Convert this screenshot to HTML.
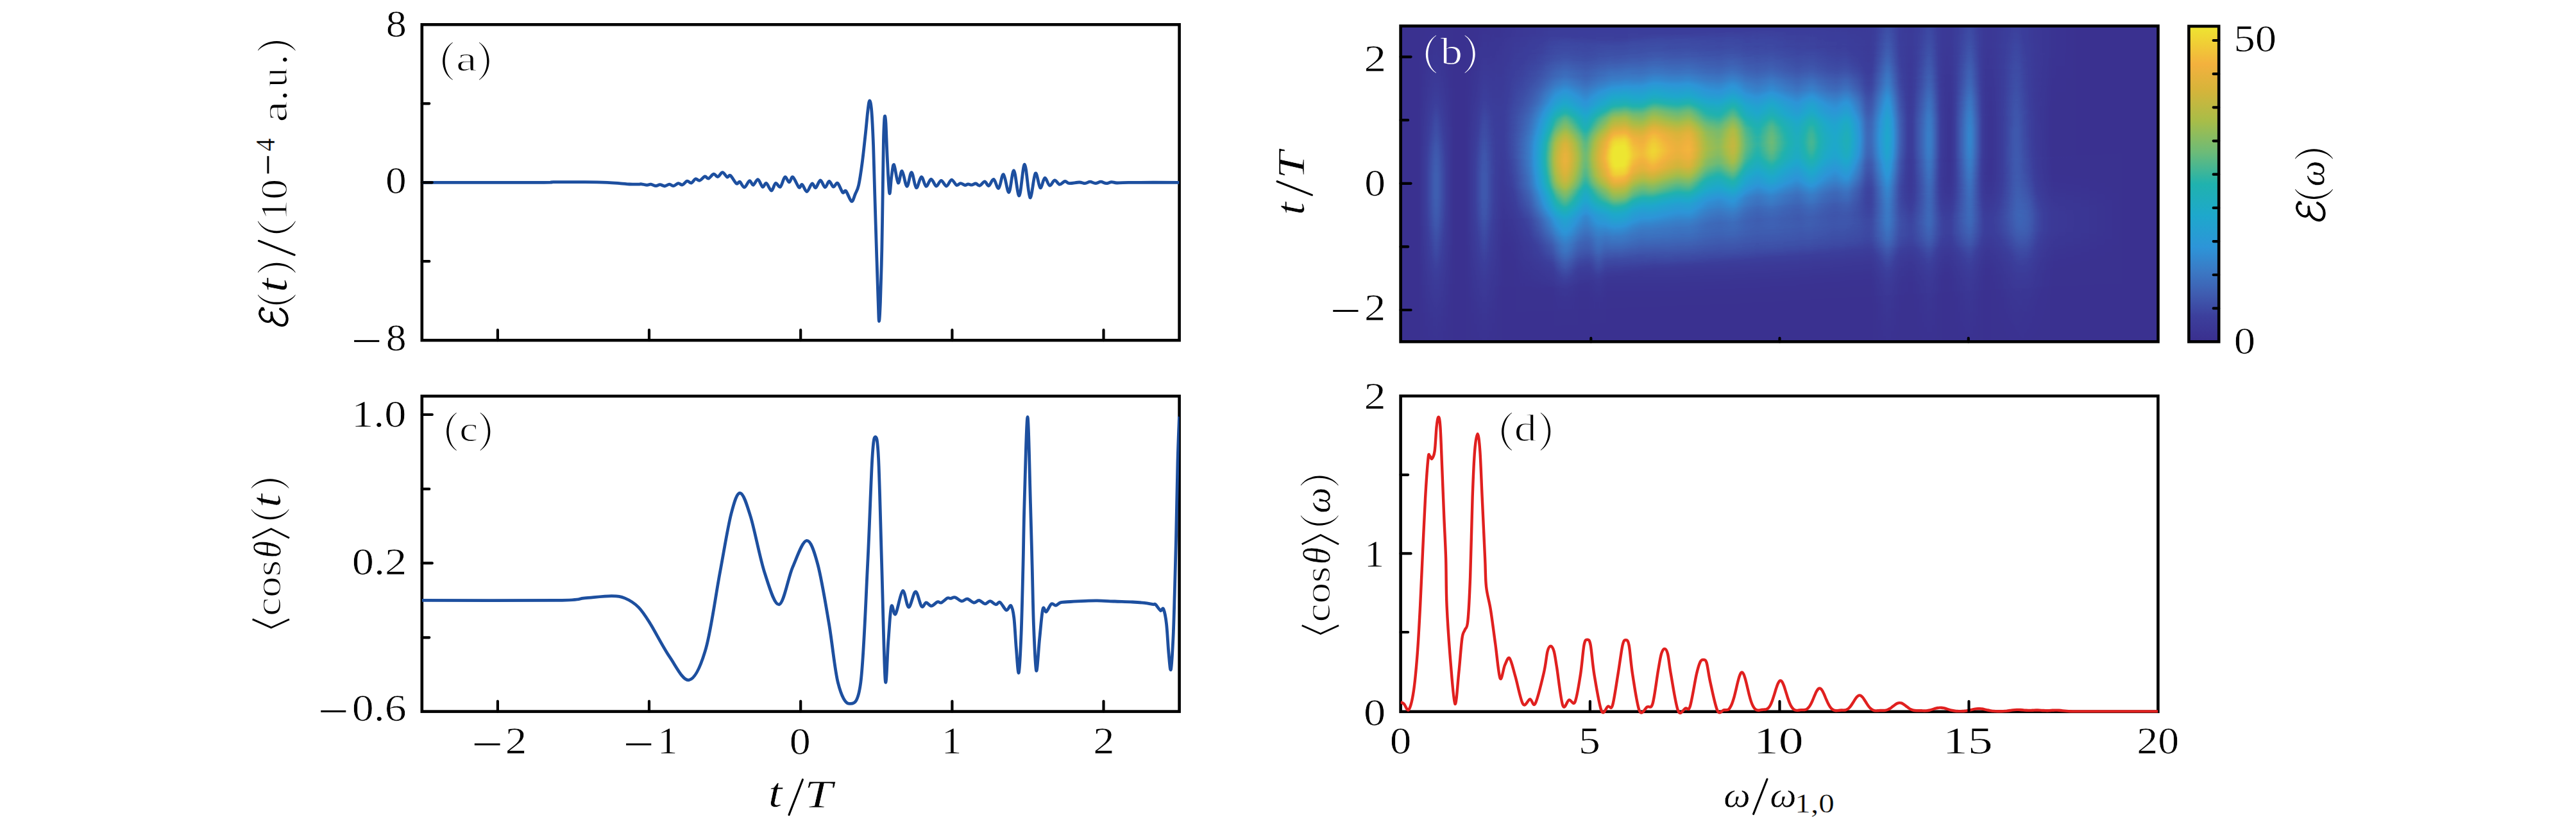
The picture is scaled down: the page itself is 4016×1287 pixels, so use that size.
<!DOCTYPE html><html><head><meta charset="utf-8"><style>html,body{margin:0;padding:0;background:#fff;overflow:hidden}svg{display:block}text{font-family:"Liberation Serif",serif;font-size:60px;font-kerning:none}</style></head><body>
<svg width="4016" height="1287" viewBox="0 0 4016 1287">
<rect width="4016" height="1287" fill="#fff"/>
<defs><filter id="pm" x="0" y="0" width="1" height="1" color-interpolation-filters="sRGB"><feComponentTransfer><feFuncR type="table" tableValues="0.2275 0.2290 0.2306 0.2321 0.2337 0.2352 0.2379 0.2405 0.2432 0.2459 0.2451 0.2415 0.2380 0.2344 0.2298 0.2190 0.2081 0.1972 0.1863 0.1755 0.1662 0.1569 0.1475 0.1382 0.1289 0.1195 0.1186 0.1199 0.1211 0.1224 0.1236 0.1249 0.1491 0.1965 0.2438 0.2911 0.3384 0.3857 0.4310 0.4683 0.5057 0.5430 0.5804 0.6177 0.6551 0.6852 0.7144 0.7437 0.7729 0.8022 0.8314 0.8562 0.8780 0.8998 0.9216 0.9434 0.9514 0.9488 0.9461 0.9434 0.9408 0.9383 0.9358 0.9333"/><feFuncG type="table" tableValues="0.1843 0.1968 0.2092 0.2217 0.2341 0.2466 0.2718 0.2976 0.3234 0.3492 0.3745 0.3994 0.4243 0.4492 0.4737 0.4963 0.5189 0.5414 0.5640 0.5855 0.5973 0.6092 0.6210 0.6328 0.6446 0.6565 0.6638 0.6700 0.6763 0.6825 0.6887 0.6949 0.7008 0.7064 0.7120 0.7176 0.7232 0.7289 0.7336 0.7348 0.7361 0.7373 0.7386 0.7398 0.7411 0.7361 0.7305 0.7249 0.7193 0.7137 0.7081 0.7045 0.7021 0.6998 0.6975 0.6951 0.7096 0.7371 0.7647 0.7923 0.8198 0.8472 0.8746 0.9020"/><feFuncB type="table" tableValues="0.5569 0.5678 0.5786 0.5895 0.6004 0.6113 0.6288 0.6466 0.6644 0.6822 0.7000 0.7178 0.7355 0.7533 0.7708 0.7864 0.8019 0.8175 0.8331 0.8463 0.8388 0.8314 0.8239 0.8164 0.8090 0.8015 0.7851 0.7664 0.7477 0.7290 0.7104 0.6917 0.6655 0.6319 0.5983 0.5647 0.5311 0.4975 0.4646 0.4347 0.4049 0.3750 0.3451 0.3152 0.2853 0.2745 0.2658 0.2571 0.2484 0.2397 0.2309 0.2293 0.2324 0.2355 0.2387 0.2418 0.2387 0.2307 0.2226 0.2146 0.2071 0.2021 0.1971 0.1922"/></feComponentTransfer></filter><radialGradient id="gg"><stop offset="0" stop-color="#fff" stop-opacity="1.0000"/><stop offset="0.08" stop-color="#fff" stop-opacity="0.9692"/><stop offset="0.17" stop-color="#fff" stop-opacity="0.8825"/><stop offset="0.25" stop-color="#fff" stop-opacity="0.7548"/><stop offset="0.33" stop-color="#fff" stop-opacity="0.6065"/><stop offset="0.42" stop-color="#fff" stop-opacity="0.4578"/><stop offset="0.5" stop-color="#fff" stop-opacity="0.3247"/><stop offset="0.58" stop-color="#fff" stop-opacity="0.2163"/><stop offset="0.67" stop-color="#fff" stop-opacity="0.1353"/><stop offset="0.75" stop-color="#fff" stop-opacity="0.0796"/><stop offset="0.83" stop-color="#fff" stop-opacity="0.0439"/><stop offset="0.92" stop-color="#fff" stop-opacity="0.0228"/><stop offset="1" stop-color="#fff" stop-opacity="0.0000"/></radialGradient><clipPath id="cbh"><rect id="hb" x="0" y="0" width="0" height="0"/></clipPath></defs>
<defs><clipPath id="hclip"><rect x="2183.6" y="40.5" width="1180.9" height="491.9"/></clipPath><linearGradient id="vg" x1="0" y1="0" x2="0" y2="1"><stop offset="0" stop-color="#fff" stop-opacity="0.0000"/><stop offset="0.03" stop-color="#fff" stop-opacity="0.0198"/><stop offset="0.07" stop-color="#fff" stop-opacity="0.0340"/><stop offset="0.1" stop-color="#fff" stop-opacity="0.0561"/><stop offset="0.13" stop-color="#fff" stop-opacity="0.0889"/><stop offset="0.17" stop-color="#fff" stop-opacity="0.1353"/><stop offset="0.2" stop-color="#fff" stop-opacity="0.1979"/><stop offset="0.23" stop-color="#fff" stop-opacity="0.2780"/><stop offset="0.27" stop-color="#fff" stop-opacity="0.3753"/><stop offset="0.3" stop-color="#fff" stop-opacity="0.4868"/><stop offset="0.33" stop-color="#fff" stop-opacity="0.6065"/><stop offset="0.37" stop-color="#fff" stop-opacity="0.7261"/><stop offset="0.4" stop-color="#fff" stop-opacity="0.8353"/><stop offset="0.43" stop-color="#fff" stop-opacity="0.9231"/><stop offset="0.47" stop-color="#fff" stop-opacity="0.9802"/><stop offset="0.5" stop-color="#fff" stop-opacity="1.0000"/><stop offset="0.53" stop-color="#fff" stop-opacity="0.9802"/><stop offset="0.57" stop-color="#fff" stop-opacity="0.9231"/><stop offset="0.6" stop-color="#fff" stop-opacity="0.8353"/><stop offset="0.63" stop-color="#fff" stop-opacity="0.7261"/><stop offset="0.67" stop-color="#fff" stop-opacity="0.6065"/><stop offset="0.7" stop-color="#fff" stop-opacity="0.4868"/><stop offset="0.73" stop-color="#fff" stop-opacity="0.3753"/><stop offset="0.77" stop-color="#fff" stop-opacity="0.2780"/><stop offset="0.8" stop-color="#fff" stop-opacity="0.1979"/><stop offset="0.83" stop-color="#fff" stop-opacity="0.1353"/><stop offset="0.87" stop-color="#fff" stop-opacity="0.0889"/><stop offset="0.9" stop-color="#fff" stop-opacity="0.0561"/><stop offset="0.93" stop-color="#fff" stop-opacity="0.0340"/><stop offset="0.97" stop-color="#fff" stop-opacity="0.0198"/><stop offset="1" stop-color="#fff" stop-opacity="0.0000"/></linearGradient><filter id="pm2" filterUnits="userSpaceOnUse" x="2143.6" y="0.5" width="1260.9" height="571.9" color-interpolation-filters="sRGB"><feGaussianBlur stdDeviation="2.5 0"/><feComponentTransfer><feFuncR type="table" tableValues="0.2275 0.2290 0.2306 0.2321 0.2337 0.2352 0.2379 0.2405 0.2432 0.2459 0.2451 0.2415 0.2380 0.2344 0.2298 0.2190 0.2081 0.1972 0.1863 0.1755 0.1662 0.1569 0.1475 0.1382 0.1289 0.1195 0.1186 0.1199 0.1211 0.1224 0.1236 0.1249 0.1491 0.1965 0.2438 0.2911 0.3384 0.3857 0.4310 0.4683 0.5057 0.5430 0.5804 0.6177 0.6551 0.6852 0.7144 0.7437 0.7729 0.8022 0.8314 0.8562 0.8780 0.8998 0.9216 0.9434 0.9514 0.9488 0.9461 0.9434 0.9408 0.9383 0.9358 0.9333"/><feFuncG type="table" tableValues="0.1843 0.1968 0.2092 0.2217 0.2341 0.2466 0.2718 0.2976 0.3234 0.3492 0.3745 0.3994 0.4243 0.4492 0.4737 0.4963 0.5189 0.5414 0.5640 0.5855 0.5973 0.6092 0.6210 0.6328 0.6446 0.6565 0.6638 0.6700 0.6763 0.6825 0.6887 0.6949 0.7008 0.7064 0.7120 0.7176 0.7232 0.7289 0.7336 0.7348 0.7361 0.7373 0.7386 0.7398 0.7411 0.7361 0.7305 0.7249 0.7193 0.7137 0.7081 0.7045 0.7021 0.6998 0.6975 0.6951 0.7096 0.7371 0.7647 0.7923 0.8198 0.8472 0.8746 0.9020"/><feFuncB type="table" tableValues="0.5569 0.5678 0.5786 0.5895 0.6004 0.6113 0.6288 0.6466 0.6644 0.6822 0.7000 0.7178 0.7355 0.7533 0.7708 0.7864 0.8019 0.8175 0.8331 0.8463 0.8388 0.8314 0.8239 0.8164 0.8090 0.8015 0.7851 0.7664 0.7477 0.7290 0.7104 0.6917 0.6655 0.6319 0.5983 0.5647 0.5311 0.4975 0.4646 0.4347 0.4049 0.3750 0.3451 0.3152 0.2853 0.2745 0.2658 0.2571 0.2484 0.2397 0.2309 0.2293 0.2324 0.2355 0.2387 0.2418 0.2387 0.2307 0.2226 0.2146 0.2071 0.2021 0.1971 0.1922"/></feComponentTransfer></filter></defs><g clip-path="url(#hclip)"><g filter="url(#pm2)"><rect x="2143.6" y="0.5" width="1260.9" height="571.9" fill="#030303"/><rect x="2331.6" y="56.51" width="4" height="390.97" fill="url(#vg)" opacity="0.010" style="mix-blend-mode:plus-lighter"/><rect x="2335.6" y="56.42" width="4" height="391.16" fill="url(#vg)" opacity="0.020" style="mix-blend-mode:plus-lighter"/><rect x="2339.6" y="56.32" width="4" height="391.35" fill="url(#vg)" opacity="0.031" style="mix-blend-mode:plus-lighter"/><rect x="2343.6" y="56.23" width="4" height="391.54" fill="url(#vg)" opacity="0.042" style="mix-blend-mode:plus-lighter"/><rect x="2347.6" y="56.14" width="4" height="391.73" fill="url(#vg)" opacity="0.052" style="mix-blend-mode:plus-lighter"/><rect x="2351.6" y="56.04" width="4" height="391.92" fill="url(#vg)" opacity="0.063" style="mix-blend-mode:plus-lighter"/><rect x="2355.6" y="55.95" width="4" height="392.11" fill="url(#vg)" opacity="0.074" style="mix-blend-mode:plus-lighter"/><rect x="2359.6" y="55.85" width="4" height="392.3" fill="url(#vg)" opacity="0.088" style="mix-blend-mode:plus-lighter"/><rect x="2363.6" y="55.76" width="4" height="392.49" fill="url(#vg)" opacity="0.107" style="mix-blend-mode:plus-lighter"/><rect x="2367.6" y="55.66" width="4" height="392.67" fill="url(#vg)" opacity="0.126" style="mix-blend-mode:plus-lighter"/><rect x="2371.6" y="55.57" width="4" height="392.86" fill="url(#vg)" opacity="0.145" style="mix-blend-mode:plus-lighter"/><rect x="2375.6" y="55.47" width="4" height="393.05" fill="url(#vg)" opacity="0.164" style="mix-blend-mode:plus-lighter"/><rect x="2379.6" y="55.38" width="4" height="393.24" fill="url(#vg)" opacity="0.184" style="mix-blend-mode:plus-lighter"/><rect x="2383.6" y="55.29" width="4" height="393.43" fill="url(#vg)" opacity="0.206" style="mix-blend-mode:plus-lighter"/><rect x="2387.6" y="55.19" width="4" height="393.62" fill="url(#vg)" opacity="0.246" style="mix-blend-mode:plus-lighter"/><rect x="2391.6" y="55.1" width="4" height="393.81" fill="url(#vg)" opacity="0.286" style="mix-blend-mode:plus-lighter"/><rect x="2395.6" y="55" width="4" height="394" fill="url(#vg)" opacity="0.326" style="mix-blend-mode:plus-lighter"/><rect x="2399.6" y="54.91" width="4" height="394.19" fill="url(#vg)" opacity="0.371" style="mix-blend-mode:plus-lighter"/><rect x="2403.6" y="54.81" width="4" height="394.37" fill="url(#vg)" opacity="0.425" style="mix-blend-mode:plus-lighter"/><rect x="2407.6" y="54.72" width="4" height="394.56" fill="url(#vg)" opacity="0.478" style="mix-blend-mode:plus-lighter"/><rect x="2411.6" y="54.62" width="4" height="394.75" fill="url(#vg)" opacity="0.531" style="mix-blend-mode:plus-lighter"/><rect x="2415.6" y="54.53" width="4" height="394.94" fill="url(#vg)" opacity="0.594" style="mix-blend-mode:plus-lighter"/><rect x="2419.6" y="54.43" width="4" height="395.13" fill="url(#vg)" opacity="0.662" style="mix-blend-mode:plus-lighter"/><rect x="2423.6" y="54.34" width="4" height="395.32" fill="url(#vg)" opacity="0.725" style="mix-blend-mode:plus-lighter"/><rect x="2427.6" y="54.25" width="4" height="395.51" fill="url(#vg)" opacity="0.757" style="mix-blend-mode:plus-lighter"/><rect x="2431.6" y="54.15" width="4" height="395.7" fill="url(#vg)" opacity="0.789" style="mix-blend-mode:plus-lighter"/><rect x="2435.6" y="54.06" width="4" height="395.89" fill="url(#vg)" opacity="0.821" style="mix-blend-mode:plus-lighter"/><rect x="2439.6" y="54.07" width="4" height="395.36" fill="url(#vg)" opacity="0.827" style="mix-blend-mode:plus-lighter"/><rect x="2443.6" y="54.59" width="4" height="393.76" fill="url(#vg)" opacity="0.795" style="mix-blend-mode:plus-lighter"/><rect x="2447.6" y="55.11" width="4" height="392.16" fill="url(#vg)" opacity="0.763" style="mix-blend-mode:plus-lighter"/><rect x="2451.6" y="55.63" width="4" height="390.56" fill="url(#vg)" opacity="0.731" style="mix-blend-mode:plus-lighter"/><rect x="2455.6" y="56.15" width="4" height="388.96" fill="url(#vg)" opacity="0.694" style="mix-blend-mode:plus-lighter"/><rect x="2459.6" y="56.67" width="4" height="387.36" fill="url(#vg)" opacity="0.654" style="mix-blend-mode:plus-lighter"/><rect x="2463.6" y="57.19" width="4" height="385.76" fill="url(#vg)" opacity="0.614" style="mix-blend-mode:plus-lighter"/><rect x="2467.6" y="57.72" width="4" height="384.16" fill="url(#vg)" opacity="0.574" style="mix-blend-mode:plus-lighter"/><rect x="2471.6" y="58.24" width="4" height="382.56" fill="url(#vg)" opacity="0.568" style="mix-blend-mode:plus-lighter"/><rect x="2475.6" y="58.76" width="4" height="380.96" fill="url(#vg)" opacity="0.612" style="mix-blend-mode:plus-lighter"/><rect x="2479.6" y="59.28" width="4" height="379.36" fill="url(#vg)" opacity="0.657" style="mix-blend-mode:plus-lighter"/><rect x="2483.6" y="59.8" width="4" height="377.76" fill="url(#vg)" opacity="0.701" style="mix-blend-mode:plus-lighter"/><rect x="2487.6" y="60.32" width="4" height="376.16" fill="url(#vg)" opacity="0.746" style="mix-blend-mode:plus-lighter"/><rect x="2491.6" y="60.84" width="4" height="374.56" fill="url(#vg)" opacity="0.781" style="mix-blend-mode:plus-lighter"/><rect x="2495.6" y="61.36" width="4" height="372.96" fill="url(#vg)" opacity="0.816" style="mix-blend-mode:plus-lighter"/><rect x="2499.6" y="61.61" width="4" height="371.9" fill="url(#vg)" opacity="0.851" style="mix-blend-mode:plus-lighter"/><rect x="2503.6" y="61.45" width="4" height="371.66" fill="url(#vg)" opacity="0.887" style="mix-blend-mode:plus-lighter"/><rect x="2507.6" y="61.29" width="4" height="371.42" fill="url(#vg)" opacity="0.933" style="mix-blend-mode:plus-lighter"/><rect x="2511.6" y="61.13" width="4" height="371.18" fill="url(#vg)" opacity="0.980" style="mix-blend-mode:plus-lighter"/><rect x="2515.6" y="60.97" width="4" height="370.94" fill="url(#vg)" opacity="1.026" style="mix-blend-mode:plus-lighter"/><rect x="2519.6" y="60.82" width="4" height="370.7" fill="url(#vg)" opacity="1.072" style="mix-blend-mode:plus-lighter"/><rect x="2523.6" y="60.48" width="4" height="370.46" fill="url(#vg)" opacity="1.085" style="mix-blend-mode:plus-lighter"/><rect x="2527.6" y="59.89" width="4" height="370.22" fill="url(#vg)" opacity="1.047" style="mix-blend-mode:plus-lighter"/><rect x="2531.6" y="59.29" width="4" height="369.98" fill="url(#vg)" opacity="1.009" style="mix-blend-mode:plus-lighter"/><rect x="2535.6" y="58.7" width="4" height="369.74" fill="url(#vg)" opacity="0.970" style="mix-blend-mode:plus-lighter"/><rect x="2539.6" y="58.11" width="4" height="369.5" fill="url(#vg)" opacity="0.932" style="mix-blend-mode:plus-lighter"/><rect x="2543.6" y="57.51" width="4" height="369.26" fill="url(#vg)" opacity="0.898" style="mix-blend-mode:plus-lighter"/><rect x="2547.6" y="56.92" width="4" height="369.02" fill="url(#vg)" opacity="0.888" style="mix-blend-mode:plus-lighter"/><rect x="2551.6" y="56.32" width="4" height="368.78" fill="url(#vg)" opacity="0.877" style="mix-blend-mode:plus-lighter"/><rect x="2555.6" y="55.73" width="4" height="368.54" fill="url(#vg)" opacity="0.866" style="mix-blend-mode:plus-lighter"/><rect x="2559.6" y="55.13" width="4" height="368.3" fill="url(#vg)" opacity="0.867" style="mix-blend-mode:plus-lighter"/><rect x="2563.6" y="54.54" width="4" height="368.06" fill="url(#vg)" opacity="0.883" style="mix-blend-mode:plus-lighter"/><rect x="2567.6" y="53.95" width="4" height="367.82" fill="url(#vg)" opacity="0.900" style="mix-blend-mode:plus-lighter"/><rect x="2571.6" y="53.35" width="4" height="367.58" fill="url(#vg)" opacity="0.916" style="mix-blend-mode:plus-lighter"/><rect x="2575.6" y="52.76" width="4" height="367.34" fill="url(#vg)" opacity="0.928" style="mix-blend-mode:plus-lighter"/><rect x="2579.6" y="52.37" width="4" height="367.1" fill="url(#vg)" opacity="0.916" style="mix-blend-mode:plus-lighter"/><rect x="2583.6" y="52.29" width="4" height="366.86" fill="url(#vg)" opacity="0.904" style="mix-blend-mode:plus-lighter"/><rect x="2587.6" y="52.21" width="4" height="366.62" fill="url(#vg)" opacity="0.892" style="mix-blend-mode:plus-lighter"/><rect x="2591.6" y="52.13" width="4" height="366.38" fill="url(#vg)" opacity="0.879" style="mix-blend-mode:plus-lighter"/><rect x="2595.6" y="52.05" width="4" height="366.14" fill="url(#vg)" opacity="0.867" style="mix-blend-mode:plus-lighter"/><rect x="2599.6" y="51.97" width="4" height="365.9" fill="url(#vg)" opacity="0.856" style="mix-blend-mode:plus-lighter"/><rect x="2603.6" y="51.89" width="4" height="365.66" fill="url(#vg)" opacity="0.845" style="mix-blend-mode:plus-lighter"/><rect x="2607.6" y="51.81" width="4" height="365.42" fill="url(#vg)" opacity="0.834" style="mix-blend-mode:plus-lighter"/><rect x="2611.6" y="51.73" width="4" height="365.18" fill="url(#vg)" opacity="0.824" style="mix-blend-mode:plus-lighter"/><rect x="2615.6" y="51.65" width="4" height="364.94" fill="url(#vg)" opacity="0.825" style="mix-blend-mode:plus-lighter"/><rect x="2619.6" y="51.57" width="4" height="364.7" fill="url(#vg)" opacity="0.834" style="mix-blend-mode:plus-lighter"/><rect x="2623.6" y="51.49" width="4" height="364.46" fill="url(#vg)" opacity="0.842" style="mix-blend-mode:plus-lighter"/><rect x="2627.6" y="51.41" width="4" height="364.22" fill="url(#vg)" opacity="0.851" style="mix-blend-mode:plus-lighter"/><rect x="2631.6" y="51.33" width="4" height="363.98" fill="url(#vg)" opacity="0.859" style="mix-blend-mode:plus-lighter"/><rect x="2635.6" y="51.25" width="4" height="363.74" fill="url(#vg)" opacity="0.832" style="mix-blend-mode:plus-lighter"/><rect x="2639.6" y="51.11" width="4" height="363.5" fill="url(#vg)" opacity="0.802" style="mix-blend-mode:plus-lighter"/><rect x="2643.6" y="50.9" width="4" height="363.26" fill="url(#vg)" opacity="0.771" style="mix-blend-mode:plus-lighter"/><rect x="2647.6" y="50.69" width="4" height="363.02" fill="url(#vg)" opacity="0.740" style="mix-blend-mode:plus-lighter"/><rect x="2651.6" y="50.47" width="4" height="362.78" fill="url(#vg)" opacity="0.709" style="mix-blend-mode:plus-lighter"/><rect x="2655.6" y="50.26" width="4" height="362.54" fill="url(#vg)" opacity="0.678" style="mix-blend-mode:plus-lighter"/><rect x="2659.6" y="50.05" width="4" height="362.3" fill="url(#vg)" opacity="0.657" style="mix-blend-mode:plus-lighter"/><rect x="2663.6" y="49.83" width="4" height="362.06" fill="url(#vg)" opacity="0.649" style="mix-blend-mode:plus-lighter"/><rect x="2667.6" y="49.62" width="4" height="361.82" fill="url(#vg)" opacity="0.641" style="mix-blend-mode:plus-lighter"/><rect x="2671.6" y="49.41" width="4" height="361.58" fill="url(#vg)" opacity="0.633" style="mix-blend-mode:plus-lighter"/><rect x="2675.6" y="49.19" width="4" height="361.34" fill="url(#vg)" opacity="0.625" style="mix-blend-mode:plus-lighter"/><rect x="2679.6" y="48.98" width="4" height="361.1" fill="url(#vg)" opacity="0.628" style="mix-blend-mode:plus-lighter"/><rect x="2683.6" y="48.77" width="4" height="360.86" fill="url(#vg)" opacity="0.649" style="mix-blend-mode:plus-lighter"/><rect x="2687.6" y="48.55" width="4" height="360.62" fill="url(#vg)" opacity="0.670" style="mix-blend-mode:plus-lighter"/><rect x="2691.6" y="48.34" width="4" height="360.38" fill="url(#vg)" opacity="0.691" style="mix-blend-mode:plus-lighter"/><rect x="2695.6" y="48.13" width="4" height="360.14" fill="url(#vg)" opacity="0.712" style="mix-blend-mode:plus-lighter"/><rect x="2699.6" y="47.92" width="4" height="359.9" fill="url(#vg)" opacity="0.733" style="mix-blend-mode:plus-lighter"/><rect x="2703.6" y="47.72" width="4" height="359.66" fill="url(#vg)" opacity="0.714" style="mix-blend-mode:plus-lighter"/><rect x="2707.6" y="47.51" width="4" height="359.42" fill="url(#vg)" opacity="0.674" style="mix-blend-mode:plus-lighter"/><rect x="2711.6" y="47.31" width="4" height="359.18" fill="url(#vg)" opacity="0.634" style="mix-blend-mode:plus-lighter"/><rect x="2715.6" y="47.11" width="4" height="358.94" fill="url(#vg)" opacity="0.594" style="mix-blend-mode:plus-lighter"/><rect x="2719.6" y="46.91" width="4" height="358.7" fill="url(#vg)" opacity="0.554" style="mix-blend-mode:plus-lighter"/><rect x="2723.6" y="46.7" width="4" height="358.46" fill="url(#vg)" opacity="0.536" style="mix-blend-mode:plus-lighter"/><rect x="2727.6" y="46.5" width="4" height="358.22" fill="url(#vg)" opacity="0.520" style="mix-blend-mode:plus-lighter"/><rect x="2731.6" y="46.3" width="4" height="357.98" fill="url(#vg)" opacity="0.505" style="mix-blend-mode:plus-lighter"/><rect x="2735.6" y="46.1" width="4" height="357.74" fill="url(#vg)" opacity="0.489" style="mix-blend-mode:plus-lighter"/><rect x="2739.6" y="45.89" width="4" height="357.5" fill="url(#vg)" opacity="0.487" style="mix-blend-mode:plus-lighter"/><rect x="2743.6" y="45.69" width="4" height="357.26" fill="url(#vg)" opacity="0.505" style="mix-blend-mode:plus-lighter"/><rect x="2747.6" y="45.49" width="4" height="357.02" fill="url(#vg)" opacity="0.524" style="mix-blend-mode:plus-lighter"/><rect x="2751.6" y="45.29" width="4" height="356.78" fill="url(#vg)" opacity="0.542" style="mix-blend-mode:plus-lighter"/><rect x="2755.6" y="45.08" width="4" height="356.54" fill="url(#vg)" opacity="0.560" style="mix-blend-mode:plus-lighter"/><rect x="2759.6" y="44.88" width="4" height="356.3" fill="url(#vg)" opacity="0.578" style="mix-blend-mode:plus-lighter"/><rect x="2763.6" y="44.91" width="4" height="356.06" fill="url(#vg)" opacity="0.564" style="mix-blend-mode:plus-lighter"/><rect x="2767.6" y="44.97" width="4" height="355.82" fill="url(#vg)" opacity="0.545" style="mix-blend-mode:plus-lighter"/><rect x="2771.6" y="45.02" width="4" height="355.58" fill="url(#vg)" opacity="0.527" style="mix-blend-mode:plus-lighter"/><rect x="2775.6" y="45.08" width="4" height="355.34" fill="url(#vg)" opacity="0.509" style="mix-blend-mode:plus-lighter"/><rect x="2779.6" y="45.13" width="4" height="355.1" fill="url(#vg)" opacity="0.491" style="mix-blend-mode:plus-lighter"/><rect x="2783.6" y="45.19" width="4" height="354.86" fill="url(#vg)" opacity="0.475" style="mix-blend-mode:plus-lighter"/><rect x="2787.6" y="45.24" width="4" height="354.62" fill="url(#vg)" opacity="0.461" style="mix-blend-mode:plus-lighter"/><rect x="2791.6" y="45.3" width="4" height="354.38" fill="url(#vg)" opacity="0.448" style="mix-blend-mode:plus-lighter"/><rect x="2795.6" y="45.35" width="4" height="354.14" fill="url(#vg)" opacity="0.435" style="mix-blend-mode:plus-lighter"/><rect x="2799.6" y="45.41" width="4" height="353.9" fill="url(#vg)" opacity="0.421" style="mix-blend-mode:plus-lighter"/><rect x="2803.6" y="45.46" width="4" height="353.66" fill="url(#vg)" opacity="0.440" style="mix-blend-mode:plus-lighter"/><rect x="2807.6" y="45.52" width="4" height="353.42" fill="url(#vg)" opacity="0.461" style="mix-blend-mode:plus-lighter"/><rect x="2811.6" y="45.58" width="4" height="353.18" fill="url(#vg)" opacity="0.483" style="mix-blend-mode:plus-lighter"/><rect x="2815.6" y="45.63" width="4" height="352.94" fill="url(#vg)" opacity="0.505" style="mix-blend-mode:plus-lighter"/><rect x="2819.6" y="45.69" width="4" height="352.7" fill="url(#vg)" opacity="0.527" style="mix-blend-mode:plus-lighter"/><rect x="2823.6" y="45.68" width="4" height="352.46" fill="url(#vg)" opacity="0.531" style="mix-blend-mode:plus-lighter"/><rect x="2827.6" y="45.59" width="4" height="352.22" fill="url(#vg)" opacity="0.508" style="mix-blend-mode:plus-lighter"/><rect x="2831.6" y="45.49" width="4" height="351.98" fill="url(#vg)" opacity="0.485" style="mix-blend-mode:plus-lighter"/><rect x="2835.6" y="45.4" width="4" height="351.74" fill="url(#vg)" opacity="0.462" style="mix-blend-mode:plus-lighter"/><rect x="2839.6" y="45.31" width="4" height="351.5" fill="url(#vg)" opacity="0.439" style="mix-blend-mode:plus-lighter"/><rect x="2843.6" y="45.21" width="4" height="351.26" fill="url(#vg)" opacity="0.419" style="mix-blend-mode:plus-lighter"/><rect x="2847.6" y="45.12" width="4" height="351.02" fill="url(#vg)" opacity="0.409" style="mix-blend-mode:plus-lighter"/><rect x="2851.6" y="45.02" width="4" height="350.78" fill="url(#vg)" opacity="0.400" style="mix-blend-mode:plus-lighter"/><rect x="2855.6" y="44.93" width="4" height="350.54" fill="url(#vg)" opacity="0.390" style="mix-blend-mode:plus-lighter"/><rect x="2859.6" y="44.83" width="4" height="350.3" fill="url(#vg)" opacity="0.381" style="mix-blend-mode:plus-lighter"/><rect x="2863.6" y="44.74" width="4" height="350.06" fill="url(#vg)" opacity="0.396" style="mix-blend-mode:plus-lighter"/><rect x="2867.6" y="44.65" width="4" height="349.82" fill="url(#vg)" opacity="0.414" style="mix-blend-mode:plus-lighter"/><rect x="2871.6" y="44.55" width="4" height="349.58" fill="url(#vg)" opacity="0.432" style="mix-blend-mode:plus-lighter"/><rect x="2875.6" y="44.46" width="4" height="349.34" fill="url(#vg)" opacity="0.449" style="mix-blend-mode:plus-lighter"/><rect x="2879.6" y="44.3" width="4" height="349.1" fill="url(#vg)" opacity="0.446" style="mix-blend-mode:plus-lighter"/><rect x="2883.6" y="44.03" width="4" height="348.86" fill="url(#vg)" opacity="0.410" style="mix-blend-mode:plus-lighter"/><rect x="2887.6" y="43.77" width="4" height="348.62" fill="url(#vg)" opacity="0.375" style="mix-blend-mode:plus-lighter"/><rect x="2891.6" y="43.51" width="4" height="348.38" fill="url(#vg)" opacity="0.339" style="mix-blend-mode:plus-lighter"/><rect x="2895.6" y="43.25" width="4" height="348.14" fill="url(#vg)" opacity="0.304" style="mix-blend-mode:plus-lighter"/><rect x="2899.6" y="42.94" width="4" height="348" fill="url(#vg)" opacity="0.258" style="mix-blend-mode:plus-lighter"/><rect x="2903.6" y="42.56" width="4" height="348" fill="url(#vg)" opacity="0.211" style="mix-blend-mode:plus-lighter"/><rect x="2907.6" y="42.18" width="4" height="348" fill="url(#vg)" opacity="0.165" style="mix-blend-mode:plus-lighter"/><rect x="2911.6" y="41.8" width="4" height="348" fill="url(#vg)" opacity="0.164" style="mix-blend-mode:plus-lighter"/><rect x="2915.6" y="41.42" width="4" height="348" fill="url(#vg)" opacity="0.169" style="mix-blend-mode:plus-lighter"/><rect x="2919.6" y="41.04" width="4" height="348" fill="url(#vg)" opacity="0.174" style="mix-blend-mode:plus-lighter"/><rect x="2923.6" y="40.66" width="4" height="348" fill="url(#vg)" opacity="0.179" style="mix-blend-mode:plus-lighter"/><rect x="2927.6" y="40.28" width="4" height="348" fill="url(#vg)" opacity="0.184" style="mix-blend-mode:plus-lighter"/><rect x="2931.6" y="39.9" width="4" height="348" fill="url(#vg)" opacity="0.189" style="mix-blend-mode:plus-lighter"/><rect x="2935.6" y="39.51" width="4" height="348" fill="url(#vg)" opacity="0.193" style="mix-blend-mode:plus-lighter"/><rect x="2939.6" y="39.13" width="4" height="348" fill="url(#vg)" opacity="0.198" style="mix-blend-mode:plus-lighter"/><rect x="2943.6" y="38.98" width="4" height="348" fill="url(#vg)" opacity="0.187" style="mix-blend-mode:plus-lighter"/><rect x="2947.6" y="38.95" width="4" height="348" fill="url(#vg)" opacity="0.167" style="mix-blend-mode:plus-lighter"/><rect x="2951.6" y="38.92" width="4" height="348" fill="url(#vg)" opacity="0.147" style="mix-blend-mode:plus-lighter"/><rect x="2955.6" y="38.9" width="4" height="348" fill="url(#vg)" opacity="0.127" style="mix-blend-mode:plus-lighter"/><rect x="2959.6" y="38.87" width="4" height="348" fill="url(#vg)" opacity="0.107" style="mix-blend-mode:plus-lighter"/><rect x="2963.6" y="38.84" width="4" height="348" fill="url(#vg)" opacity="0.087" style="mix-blend-mode:plus-lighter"/><rect x="2967.6" y="38.81" width="4" height="348" fill="url(#vg)" opacity="0.067" style="mix-blend-mode:plus-lighter"/><rect x="2971.6" y="38.78" width="4" height="348" fill="url(#vg)" opacity="0.047" style="mix-blend-mode:plus-lighter"/><rect x="2975.6" y="38.75" width="4" height="348" fill="url(#vg)" opacity="0.043" style="mix-blend-mode:plus-lighter"/><rect x="2979.6" y="38.72" width="4" height="348" fill="url(#vg)" opacity="0.048" style="mix-blend-mode:plus-lighter"/><rect x="2983.6" y="38.7" width="4" height="348" fill="url(#vg)" opacity="0.053" style="mix-blend-mode:plus-lighter"/><rect x="2987.6" y="38.67" width="4" height="348" fill="url(#vg)" opacity="0.058" style="mix-blend-mode:plus-lighter"/><rect x="2991.6" y="38.64" width="4" height="348" fill="url(#vg)" opacity="0.063" style="mix-blend-mode:plus-lighter"/><rect x="2995.6" y="38.61" width="4" height="348" fill="url(#vg)" opacity="0.067" style="mix-blend-mode:plus-lighter"/><rect x="2999.6" y="38.58" width="4" height="348" fill="url(#vg)" opacity="0.072" style="mix-blend-mode:plus-lighter"/><rect x="3003.6" y="38.55" width="4" height="348" fill="url(#vg)" opacity="0.077" style="mix-blend-mode:plus-lighter"/><rect x="3007.6" y="38.53" width="4" height="348" fill="url(#vg)" opacity="0.076" style="mix-blend-mode:plus-lighter"/><rect x="3011.6" y="38.5" width="4" height="348" fill="url(#vg)" opacity="0.066" style="mix-blend-mode:plus-lighter"/><rect x="3015.6" y="38.47" width="4" height="348" fill="url(#vg)" opacity="0.057" style="mix-blend-mode:plus-lighter"/><rect x="3019.6" y="38.44" width="4" height="348" fill="url(#vg)" opacity="0.047" style="mix-blend-mode:plus-lighter"/><rect x="3023.6" y="38.41" width="4" height="348" fill="url(#vg)" opacity="0.037" style="mix-blend-mode:plus-lighter"/><rect x="3027.6" y="38.38" width="4" height="348" fill="url(#vg)" opacity="0.028" style="mix-blend-mode:plus-lighter"/><rect x="3031.6" y="38.35" width="4" height="348" fill="url(#vg)" opacity="0.018" style="mix-blend-mode:plus-lighter"/><rect x="3035.6" y="38.33" width="4" height="348" fill="url(#vg)" opacity="0.008" style="mix-blend-mode:plus-lighter"/><rect x="3043.6" y="38.27" width="4" height="348" fill="url(#vg)" opacity="0.012" style="mix-blend-mode:plus-lighter"/><rect x="3047.6" y="38.24" width="4" height="348" fill="url(#vg)" opacity="0.023" style="mix-blend-mode:plus-lighter"/><rect x="3051.6" y="38.21" width="4" height="348" fill="url(#vg)" opacity="0.034" style="mix-blend-mode:plus-lighter"/><rect x="3055.6" y="38.18" width="4" height="348" fill="url(#vg)" opacity="0.044" style="mix-blend-mode:plus-lighter"/><rect x="3059.6" y="38.15" width="4" height="348" fill="url(#vg)" opacity="0.055" style="mix-blend-mode:plus-lighter"/><rect x="3063.6" y="38.13" width="4" height="348" fill="url(#vg)" opacity="0.066" style="mix-blend-mode:plus-lighter"/><rect x="3067.6" y="38.1" width="4" height="348" fill="url(#vg)" opacity="0.076" style="mix-blend-mode:plus-lighter"/><rect x="3071.6" y="38.07" width="4" height="348" fill="url(#vg)" opacity="0.074" style="mix-blend-mode:plus-lighter"/><rect x="3075.6" y="38.04" width="4" height="348" fill="url(#vg)" opacity="0.064" style="mix-blend-mode:plus-lighter"/><rect x="3079.6" y="38.01" width="4" height="348" fill="url(#vg)" opacity="0.054" style="mix-blend-mode:plus-lighter"/><rect x="3083.6" y="37.98" width="4" height="348" fill="url(#vg)" opacity="0.045" style="mix-blend-mode:plus-lighter"/><rect x="3087.6" y="37.96" width="4" height="348" fill="url(#vg)" opacity="0.035" style="mix-blend-mode:plus-lighter"/><rect x="3091.6" y="37.93" width="4" height="348" fill="url(#vg)" opacity="0.025" style="mix-blend-mode:plus-lighter"/><rect x="3095.6" y="37.9" width="4" height="348" fill="url(#vg)" opacity="0.016" style="mix-blend-mode:plus-lighter"/><rect x="3099.6" y="37.87" width="4" height="348" fill="url(#vg)" opacity="0.006" style="mix-blend-mode:plus-lighter"/><rect x="2363.6" y="282.79" width="4" height="204" fill="url(#vg)" opacity="0.004" style="mix-blend-mode:plus-lighter"/><rect x="2367.6" y="282.63" width="4" height="204" fill="url(#vg)" opacity="0.007" style="mix-blend-mode:plus-lighter"/><rect x="2371.6" y="282.48" width="4" height="204" fill="url(#vg)" opacity="0.011" style="mix-blend-mode:plus-lighter"/><rect x="2375.6" y="282.33" width="4" height="204" fill="url(#vg)" opacity="0.014" style="mix-blend-mode:plus-lighter"/><rect x="2379.6" y="282.17" width="4" height="204" fill="url(#vg)" opacity="0.017" style="mix-blend-mode:plus-lighter"/><rect x="2383.6" y="282.02" width="4" height="204" fill="url(#vg)" opacity="0.020" style="mix-blend-mode:plus-lighter"/><rect x="2387.6" y="281.87" width="4" height="204" fill="url(#vg)" opacity="0.023" style="mix-blend-mode:plus-lighter"/><rect x="2391.6" y="281.72" width="4" height="204" fill="url(#vg)" opacity="0.026" style="mix-blend-mode:plus-lighter"/><rect x="2395.6" y="281.56" width="4" height="204" fill="url(#vg)" opacity="0.029" style="mix-blend-mode:plus-lighter"/><rect x="2399.6" y="281.41" width="4" height="204" fill="url(#vg)" opacity="0.032" style="mix-blend-mode:plus-lighter"/><rect x="2403.6" y="281.26" width="4" height="204" fill="url(#vg)" opacity="0.035" style="mix-blend-mode:plus-lighter"/><rect x="2407.6" y="281.1" width="4" height="204" fill="url(#vg)" opacity="0.039" style="mix-blend-mode:plus-lighter"/><rect x="2411.6" y="280.95" width="4" height="204" fill="url(#vg)" opacity="0.042" style="mix-blend-mode:plus-lighter"/><rect x="2415.6" y="280.8" width="4" height="204" fill="url(#vg)" opacity="0.045" style="mix-blend-mode:plus-lighter"/><rect x="2419.6" y="280.64" width="4" height="204" fill="url(#vg)" opacity="0.048" style="mix-blend-mode:plus-lighter"/><rect x="2423.6" y="280.49" width="4" height="204" fill="url(#vg)" opacity="0.051" style="mix-blend-mode:plus-lighter"/><rect x="2427.6" y="280.34" width="4" height="204" fill="url(#vg)" opacity="0.054" style="mix-blend-mode:plus-lighter"/><rect x="2431.6" y="280.19" width="4" height="204" fill="url(#vg)" opacity="0.057" style="mix-blend-mode:plus-lighter"/><rect x="2435.6" y="280.03" width="4" height="204" fill="url(#vg)" opacity="0.060" style="mix-blend-mode:plus-lighter"/><rect x="2439.6" y="279.88" width="4" height="204" fill="url(#vg)" opacity="0.063" style="mix-blend-mode:plus-lighter"/><rect x="2443.6" y="279.73" width="4" height="204" fill="url(#vg)" opacity="0.067" style="mix-blend-mode:plus-lighter"/><rect x="2447.6" y="279.57" width="4" height="204" fill="url(#vg)" opacity="0.070" style="mix-blend-mode:plus-lighter"/><rect x="2451.6" y="279.42" width="4" height="204" fill="url(#vg)" opacity="0.071" style="mix-blend-mode:plus-lighter"/><rect x="2455.6" y="279.27" width="4" height="204" fill="url(#vg)" opacity="0.072" style="mix-blend-mode:plus-lighter"/><rect x="2459.6" y="279.12" width="4" height="204" fill="url(#vg)" opacity="0.072" style="mix-blend-mode:plus-lighter"/><rect x="2463.6" y="278.96" width="4" height="204" fill="url(#vg)" opacity="0.073" style="mix-blend-mode:plus-lighter"/><rect x="2467.6" y="278.81" width="4" height="204" fill="url(#vg)" opacity="0.074" style="mix-blend-mode:plus-lighter"/><rect x="2471.6" y="278.66" width="4" height="204" fill="url(#vg)" opacity="0.075" style="mix-blend-mode:plus-lighter"/><rect x="2475.6" y="278.5" width="4" height="204" fill="url(#vg)" opacity="0.076" style="mix-blend-mode:plus-lighter"/><rect x="2479.6" y="278.35" width="4" height="204" fill="url(#vg)" opacity="0.076" style="mix-blend-mode:plus-lighter"/><rect x="2483.6" y="278.2" width="4" height="204" fill="url(#vg)" opacity="0.077" style="mix-blend-mode:plus-lighter"/><rect x="2487.6" y="278.04" width="4" height="204" fill="url(#vg)" opacity="0.078" style="mix-blend-mode:plus-lighter"/><rect x="2491.6" y="277.89" width="4" height="204" fill="url(#vg)" opacity="0.079" style="mix-blend-mode:plus-lighter"/><rect x="2495.6" y="277.74" width="4" height="204" fill="url(#vg)" opacity="0.080" style="mix-blend-mode:plus-lighter"/><rect x="2499.6" y="277.59" width="4" height="204" fill="url(#vg)" opacity="0.080" style="mix-blend-mode:plus-lighter"/><rect x="2503.6" y="277.43" width="4" height="204" fill="url(#vg)" opacity="0.081" style="mix-blend-mode:plus-lighter"/><rect x="2507.6" y="277.28" width="4" height="204" fill="url(#vg)" opacity="0.082" style="mix-blend-mode:plus-lighter"/><rect x="2511.6" y="277.13" width="4" height="204" fill="url(#vg)" opacity="0.083" style="mix-blend-mode:plus-lighter"/><rect x="2515.6" y="276.97" width="4" height="204" fill="url(#vg)" opacity="0.084" style="mix-blend-mode:plus-lighter"/><rect x="2519.6" y="276.82" width="4" height="204" fill="url(#vg)" opacity="0.084" style="mix-blend-mode:plus-lighter"/><rect x="2523.6" y="276.67" width="4" height="204" fill="url(#vg)" opacity="0.085" style="mix-blend-mode:plus-lighter"/><rect x="2527.6" y="276.52" width="4" height="204" fill="url(#vg)" opacity="0.086" style="mix-blend-mode:plus-lighter"/><rect x="2531.6" y="276.36" width="4" height="204" fill="url(#vg)" opacity="0.087" style="mix-blend-mode:plus-lighter"/><rect x="2535.6" y="276.21" width="4" height="204" fill="url(#vg)" opacity="0.088" style="mix-blend-mode:plus-lighter"/><rect x="2539.6" y="276.06" width="4" height="204" fill="url(#vg)" opacity="0.088" style="mix-blend-mode:plus-lighter"/><rect x="2543.6" y="275.9" width="4" height="204" fill="url(#vg)" opacity="0.089" style="mix-blend-mode:plus-lighter"/><rect x="2547.6" y="275.75" width="4" height="204" fill="url(#vg)" opacity="0.090" style="mix-blend-mode:plus-lighter"/><rect x="2551.6" y="275.6" width="4" height="204" fill="url(#vg)" opacity="0.091" style="mix-blend-mode:plus-lighter"/><rect x="2555.6" y="275.44" width="4" height="204" fill="url(#vg)" opacity="0.092" style="mix-blend-mode:plus-lighter"/><rect x="2559.6" y="275.29" width="4" height="204" fill="url(#vg)" opacity="0.092" style="mix-blend-mode:plus-lighter"/><rect x="2563.6" y="275.14" width="4" height="204" fill="url(#vg)" opacity="0.093" style="mix-blend-mode:plus-lighter"/><rect x="2567.6" y="274.99" width="4" height="204" fill="url(#vg)" opacity="0.094" style="mix-blend-mode:plus-lighter"/><rect x="2571.6" y="274.83" width="4" height="204" fill="url(#vg)" opacity="0.095" style="mix-blend-mode:plus-lighter"/><rect x="2575.6" y="274.68" width="4" height="204" fill="url(#vg)" opacity="0.096" style="mix-blend-mode:plus-lighter"/><rect x="2579.6" y="274.53" width="4" height="204" fill="url(#vg)" opacity="0.096" style="mix-blend-mode:plus-lighter"/><rect x="2583.6" y="274.37" width="4" height="204" fill="url(#vg)" opacity="0.097" style="mix-blend-mode:plus-lighter"/><rect x="2587.6" y="274.22" width="4" height="204" fill="url(#vg)" opacity="0.098" style="mix-blend-mode:plus-lighter"/><rect x="2591.6" y="274.07" width="4" height="204" fill="url(#vg)" opacity="0.099" style="mix-blend-mode:plus-lighter"/><rect x="2595.6" y="273.92" width="4" height="204" fill="url(#vg)" opacity="0.100" style="mix-blend-mode:plus-lighter"/><rect x="2599.6" y="273.76" width="4" height="204" fill="url(#vg)" opacity="0.100" style="mix-blend-mode:plus-lighter"/><rect x="2603.6" y="273.61" width="4" height="204" fill="url(#vg)" opacity="0.100" style="mix-blend-mode:plus-lighter"/><rect x="2607.6" y="273.46" width="4" height="204" fill="url(#vg)" opacity="0.100" style="mix-blend-mode:plus-lighter"/><rect x="2611.6" y="273.3" width="4" height="204" fill="url(#vg)" opacity="0.100" style="mix-blend-mode:plus-lighter"/><rect x="2615.6" y="273.15" width="4" height="204" fill="url(#vg)" opacity="0.100" style="mix-blend-mode:plus-lighter"/><rect x="2619.6" y="273" width="4" height="204" fill="url(#vg)" opacity="0.100" style="mix-blend-mode:plus-lighter"/><rect x="2623.6" y="272.84" width="4" height="204" fill="url(#vg)" opacity="0.100" style="mix-blend-mode:plus-lighter"/><rect x="2627.6" y="272.69" width="4" height="204" fill="url(#vg)" opacity="0.100" style="mix-blend-mode:plus-lighter"/><rect x="2631.6" y="272.54" width="4" height="204" fill="url(#vg)" opacity="0.100" style="mix-blend-mode:plus-lighter"/><rect x="2635.6" y="272.39" width="4" height="204" fill="url(#vg)" opacity="0.100" style="mix-blend-mode:plus-lighter"/><rect x="2639.6" y="272.23" width="4" height="204" fill="url(#vg)" opacity="0.100" style="mix-blend-mode:plus-lighter"/><rect x="2643.6" y="272.08" width="4" height="204" fill="url(#vg)" opacity="0.100" style="mix-blend-mode:plus-lighter"/><rect x="2647.6" y="271.93" width="4" height="204" fill="url(#vg)" opacity="0.100" style="mix-blend-mode:plus-lighter"/><rect x="2651.6" y="271.77" width="4" height="204" fill="url(#vg)" opacity="0.100" style="mix-blend-mode:plus-lighter"/><rect x="2655.6" y="271.62" width="4" height="204" fill="url(#vg)" opacity="0.100" style="mix-blend-mode:plus-lighter"/><rect x="2659.6" y="271.47" width="4" height="204" fill="url(#vg)" opacity="0.100" style="mix-blend-mode:plus-lighter"/><rect x="2663.6" y="271.32" width="4" height="204" fill="url(#vg)" opacity="0.100" style="mix-blend-mode:plus-lighter"/><rect x="2667.6" y="271.16" width="4" height="204" fill="url(#vg)" opacity="0.100" style="mix-blend-mode:plus-lighter"/><rect x="2671.6" y="271.01" width="4" height="204" fill="url(#vg)" opacity="0.100" style="mix-blend-mode:plus-lighter"/><rect x="2675.6" y="270.86" width="4" height="204" fill="url(#vg)" opacity="0.100" style="mix-blend-mode:plus-lighter"/><rect x="2679.6" y="270.7" width="4" height="204" fill="url(#vg)" opacity="0.100" style="mix-blend-mode:plus-lighter"/><rect x="2683.6" y="270.55" width="4" height="204" fill="url(#vg)" opacity="0.100" style="mix-blend-mode:plus-lighter"/><rect x="2687.6" y="270.4" width="4" height="204" fill="url(#vg)" opacity="0.100" style="mix-blend-mode:plus-lighter"/><rect x="2691.6" y="270.24" width="4" height="204" fill="url(#vg)" opacity="0.100" style="mix-blend-mode:plus-lighter"/><rect x="2695.6" y="270.09" width="4" height="204" fill="url(#vg)" opacity="0.100" style="mix-blend-mode:plus-lighter"/><rect x="2699.6" y="269.91" width="4" height="204" fill="url(#vg)" opacity="0.100" style="mix-blend-mode:plus-lighter"/><rect x="2703.6" y="269.7" width="4" height="204" fill="url(#vg)" opacity="0.100" style="mix-blend-mode:plus-lighter"/><rect x="2707.6" y="269.48" width="4" height="204" fill="url(#vg)" opacity="0.100" style="mix-blend-mode:plus-lighter"/><rect x="2711.6" y="269.27" width="4" height="204" fill="url(#vg)" opacity="0.100" style="mix-blend-mode:plus-lighter"/><rect x="2715.6" y="269.05" width="4" height="204" fill="url(#vg)" opacity="0.100" style="mix-blend-mode:plus-lighter"/><rect x="2719.6" y="268.83" width="4" height="204" fill="url(#vg)" opacity="0.100" style="mix-blend-mode:plus-lighter"/><rect x="2723.6" y="268.62" width="4" height="204" fill="url(#vg)" opacity="0.100" style="mix-blend-mode:plus-lighter"/><rect x="2727.6" y="268.4" width="4" height="204" fill="url(#vg)" opacity="0.100" style="mix-blend-mode:plus-lighter"/><rect x="2731.6" y="268.19" width="4" height="204" fill="url(#vg)" opacity="0.100" style="mix-blend-mode:plus-lighter"/><rect x="2735.6" y="267.97" width="4" height="204" fill="url(#vg)" opacity="0.100" style="mix-blend-mode:plus-lighter"/><rect x="2739.6" y="267.75" width="4" height="204" fill="url(#vg)" opacity="0.100" style="mix-blend-mode:plus-lighter"/><rect x="2743.6" y="267.54" width="4" height="204" fill="url(#vg)" opacity="0.100" style="mix-blend-mode:plus-lighter"/><rect x="2747.6" y="267.32" width="4" height="204" fill="url(#vg)" opacity="0.100" style="mix-blend-mode:plus-lighter"/><rect x="2751.6" y="267.11" width="4" height="204" fill="url(#vg)" opacity="0.100" style="mix-blend-mode:plus-lighter"/><rect x="2755.6" y="266.89" width="4" height="204" fill="url(#vg)" opacity="0.100" style="mix-blend-mode:plus-lighter"/><rect x="2759.6" y="266.67" width="4" height="204" fill="url(#vg)" opacity="0.100" style="mix-blend-mode:plus-lighter"/><rect x="2763.6" y="266.46" width="4" height="204" fill="url(#vg)" opacity="0.100" style="mix-blend-mode:plus-lighter"/><rect x="2767.6" y="266.24" width="4" height="204" fill="url(#vg)" opacity="0.100" style="mix-blend-mode:plus-lighter"/><rect x="2771.6" y="266.03" width="4" height="204" fill="url(#vg)" opacity="0.100" style="mix-blend-mode:plus-lighter"/><rect x="2775.6" y="265.81" width="4" height="204" fill="url(#vg)" opacity="0.100" style="mix-blend-mode:plus-lighter"/><rect x="2779.6" y="265.59" width="4" height="204" fill="url(#vg)" opacity="0.100" style="mix-blend-mode:plus-lighter"/><rect x="2783.6" y="265.38" width="4" height="204" fill="url(#vg)" opacity="0.100" style="mix-blend-mode:plus-lighter"/><rect x="2787.6" y="265.16" width="4" height="204" fill="url(#vg)" opacity="0.100" style="mix-blend-mode:plus-lighter"/><rect x="2791.6" y="264.95" width="4" height="204" fill="url(#vg)" opacity="0.100" style="mix-blend-mode:plus-lighter"/><rect x="2795.6" y="264.73" width="4" height="204" fill="url(#vg)" opacity="0.100" style="mix-blend-mode:plus-lighter"/><rect x="2799.6" y="264.51" width="4" height="204" fill="url(#vg)" opacity="0.100" style="mix-blend-mode:plus-lighter"/><rect x="2803.6" y="264.3" width="4" height="204" fill="url(#vg)" opacity="0.099" style="mix-blend-mode:plus-lighter"/><rect x="2807.6" y="264.08" width="4" height="204" fill="url(#vg)" opacity="0.099" style="mix-blend-mode:plus-lighter"/><rect x="2811.6" y="263.87" width="4" height="204" fill="url(#vg)" opacity="0.098" style="mix-blend-mode:plus-lighter"/><rect x="2815.6" y="263.65" width="4" height="204" fill="url(#vg)" opacity="0.097" style="mix-blend-mode:plus-lighter"/><rect x="2819.6" y="263.43" width="4" height="204" fill="url(#vg)" opacity="0.097" style="mix-blend-mode:plus-lighter"/><rect x="2823.6" y="263.22" width="4" height="204" fill="url(#vg)" opacity="0.096" style="mix-blend-mode:plus-lighter"/><rect x="2827.6" y="263" width="4" height="204" fill="url(#vg)" opacity="0.096" style="mix-blend-mode:plus-lighter"/><rect x="2831.6" y="262.79" width="4" height="204" fill="url(#vg)" opacity="0.095" style="mix-blend-mode:plus-lighter"/><rect x="2835.6" y="262.57" width="4" height="204" fill="url(#vg)" opacity="0.094" style="mix-blend-mode:plus-lighter"/><rect x="2839.6" y="262.35" width="4" height="204" fill="url(#vg)" opacity="0.094" style="mix-blend-mode:plus-lighter"/><rect x="2843.6" y="262.14" width="4" height="204" fill="url(#vg)" opacity="0.093" style="mix-blend-mode:plus-lighter"/><rect x="2847.6" y="261.92" width="4" height="204" fill="url(#vg)" opacity="0.093" style="mix-blend-mode:plus-lighter"/><rect x="2851.6" y="261.71" width="4" height="204" fill="url(#vg)" opacity="0.092" style="mix-blend-mode:plus-lighter"/><rect x="2855.6" y="261.49" width="4" height="204" fill="url(#vg)" opacity="0.091" style="mix-blend-mode:plus-lighter"/><rect x="2859.6" y="261.27" width="4" height="204" fill="url(#vg)" opacity="0.091" style="mix-blend-mode:plus-lighter"/><rect x="2863.6" y="261.06" width="4" height="204" fill="url(#vg)" opacity="0.090" style="mix-blend-mode:plus-lighter"/><rect x="2867.6" y="260.84" width="4" height="204" fill="url(#vg)" opacity="0.090" style="mix-blend-mode:plus-lighter"/><rect x="2871.6" y="260.63" width="4" height="204" fill="url(#vg)" opacity="0.089" style="mix-blend-mode:plus-lighter"/><rect x="2875.6" y="260.41" width="4" height="204" fill="url(#vg)" opacity="0.088" style="mix-blend-mode:plus-lighter"/><rect x="2879.6" y="260.19" width="4" height="204" fill="url(#vg)" opacity="0.088" style="mix-blend-mode:plus-lighter"/><rect x="2883.6" y="259.98" width="4" height="204" fill="url(#vg)" opacity="0.087" style="mix-blend-mode:plus-lighter"/><rect x="2887.6" y="259.76" width="4" height="204" fill="url(#vg)" opacity="0.087" style="mix-blend-mode:plus-lighter"/><rect x="2891.6" y="259.55" width="4" height="204" fill="url(#vg)" opacity="0.086" style="mix-blend-mode:plus-lighter"/><rect x="2895.6" y="259.33" width="4" height="204" fill="url(#vg)" opacity="0.085" style="mix-blend-mode:plus-lighter"/><rect x="2899.6" y="259.11" width="4" height="204" fill="url(#vg)" opacity="0.085" style="mix-blend-mode:plus-lighter"/><rect x="2903.6" y="258.9" width="4" height="204" fill="url(#vg)" opacity="0.084" style="mix-blend-mode:plus-lighter"/><rect x="2907.6" y="258.68" width="4" height="204" fill="url(#vg)" opacity="0.084" style="mix-blend-mode:plus-lighter"/><rect x="2911.6" y="258.47" width="4" height="204" fill="url(#vg)" opacity="0.083" style="mix-blend-mode:plus-lighter"/><rect x="2915.6" y="258.25" width="4" height="204" fill="url(#vg)" opacity="0.082" style="mix-blend-mode:plus-lighter"/><rect x="2919.6" y="258.03" width="4" height="204" fill="url(#vg)" opacity="0.082" style="mix-blend-mode:plus-lighter"/><rect x="2923.6" y="257.82" width="4" height="204" fill="url(#vg)" opacity="0.081" style="mix-blend-mode:plus-lighter"/><rect x="2927.6" y="257.6" width="4" height="204" fill="url(#vg)" opacity="0.081" style="mix-blend-mode:plus-lighter"/><rect x="2931.6" y="257.39" width="4" height="204" fill="url(#vg)" opacity="0.080" style="mix-blend-mode:plus-lighter"/><rect x="2935.6" y="257.17" width="4" height="204" fill="url(#vg)" opacity="0.079" style="mix-blend-mode:plus-lighter"/><rect x="2939.6" y="256.95" width="4" height="204" fill="url(#vg)" opacity="0.079" style="mix-blend-mode:plus-lighter"/><rect x="2943.6" y="256.74" width="4" height="204" fill="url(#vg)" opacity="0.078" style="mix-blend-mode:plus-lighter"/><rect x="2947.6" y="256.52" width="4" height="204" fill="url(#vg)" opacity="0.078" style="mix-blend-mode:plus-lighter"/><rect x="2951.6" y="256.31" width="4" height="204" fill="url(#vg)" opacity="0.077" style="mix-blend-mode:plus-lighter"/><rect x="2955.6" y="256.09" width="4" height="204" fill="url(#vg)" opacity="0.076" style="mix-blend-mode:plus-lighter"/><rect x="2959.6" y="255.87" width="4" height="204" fill="url(#vg)" opacity="0.076" style="mix-blend-mode:plus-lighter"/><rect x="2963.6" y="255.66" width="4" height="204" fill="url(#vg)" opacity="0.075" style="mix-blend-mode:plus-lighter"/><rect x="2967.6" y="255.44" width="4" height="204" fill="url(#vg)" opacity="0.075" style="mix-blend-mode:plus-lighter"/><rect x="2971.6" y="255.23" width="4" height="204" fill="url(#vg)" opacity="0.074" style="mix-blend-mode:plus-lighter"/><rect x="2975.6" y="255.01" width="4" height="204" fill="url(#vg)" opacity="0.073" style="mix-blend-mode:plus-lighter"/><rect x="2979.6" y="254.79" width="4" height="204" fill="url(#vg)" opacity="0.073" style="mix-blend-mode:plus-lighter"/><rect x="2983.6" y="254.58" width="4" height="204" fill="url(#vg)" opacity="0.072" style="mix-blend-mode:plus-lighter"/><rect x="2987.6" y="254.36" width="4" height="204" fill="url(#vg)" opacity="0.072" style="mix-blend-mode:plus-lighter"/><rect x="2991.6" y="254.15" width="4" height="204" fill="url(#vg)" opacity="0.071" style="mix-blend-mode:plus-lighter"/><rect x="2995.6" y="253.93" width="4" height="204" fill="url(#vg)" opacity="0.070" style="mix-blend-mode:plus-lighter"/><rect x="2999.6" y="253.71" width="4" height="204" fill="url(#vg)" opacity="0.070" style="mix-blend-mode:plus-lighter"/><rect x="3003.6" y="253.5" width="4" height="204" fill="url(#vg)" opacity="0.069" style="mix-blend-mode:plus-lighter"/><rect x="3007.6" y="253.28" width="4" height="204" fill="url(#vg)" opacity="0.069" style="mix-blend-mode:plus-lighter"/><rect x="3011.6" y="253.07" width="4" height="204" fill="url(#vg)" opacity="0.068" style="mix-blend-mode:plus-lighter"/><rect x="3015.6" y="252.85" width="4" height="204" fill="url(#vg)" opacity="0.067" style="mix-blend-mode:plus-lighter"/><rect x="3019.6" y="252.63" width="4" height="204" fill="url(#vg)" opacity="0.067" style="mix-blend-mode:plus-lighter"/><rect x="3023.6" y="252.42" width="4" height="204" fill="url(#vg)" opacity="0.066" style="mix-blend-mode:plus-lighter"/><rect x="3027.6" y="252.2" width="4" height="204" fill="url(#vg)" opacity="0.066" style="mix-blend-mode:plus-lighter"/><rect x="3031.6" y="251.99" width="4" height="204" fill="url(#vg)" opacity="0.065" style="mix-blend-mode:plus-lighter"/><rect x="3035.6" y="251.77" width="4" height="204" fill="url(#vg)" opacity="0.064" style="mix-blend-mode:plus-lighter"/><rect x="3039.6" y="251.55" width="4" height="204" fill="url(#vg)" opacity="0.064" style="mix-blend-mode:plus-lighter"/><rect x="3043.6" y="251.34" width="4" height="204" fill="url(#vg)" opacity="0.063" style="mix-blend-mode:plus-lighter"/><rect x="3047.6" y="251.12" width="4" height="204" fill="url(#vg)" opacity="0.063" style="mix-blend-mode:plus-lighter"/><rect x="3051.6" y="250.91" width="4" height="204" fill="url(#vg)" opacity="0.062" style="mix-blend-mode:plus-lighter"/><rect x="3055.6" y="250.69" width="4" height="204" fill="url(#vg)" opacity="0.061" style="mix-blend-mode:plus-lighter"/><rect x="3059.6" y="250.47" width="4" height="204" fill="url(#vg)" opacity="0.061" style="mix-blend-mode:plus-lighter"/><rect x="3063.6" y="250.26" width="4" height="204" fill="url(#vg)" opacity="0.060" style="mix-blend-mode:plus-lighter"/><rect x="3067.6" y="250.04" width="4" height="204" fill="url(#vg)" opacity="0.060" style="mix-blend-mode:plus-lighter"/><rect x="3071.6" y="249.83" width="4" height="204" fill="url(#vg)" opacity="0.059" style="mix-blend-mode:plus-lighter"/><rect x="3075.6" y="249.61" width="4" height="204" fill="url(#vg)" opacity="0.058" style="mix-blend-mode:plus-lighter"/><rect x="3079.6" y="249.39" width="4" height="204" fill="url(#vg)" opacity="0.058" style="mix-blend-mode:plus-lighter"/><rect x="3083.6" y="249.18" width="4" height="204" fill="url(#vg)" opacity="0.057" style="mix-blend-mode:plus-lighter"/><rect x="3087.6" y="248.96" width="4" height="204" fill="url(#vg)" opacity="0.057" style="mix-blend-mode:plus-lighter"/><rect x="3091.6" y="248.75" width="4" height="204" fill="url(#vg)" opacity="0.056" style="mix-blend-mode:plus-lighter"/><rect x="3095.6" y="248.53" width="4" height="204" fill="url(#vg)" opacity="0.055" style="mix-blend-mode:plus-lighter"/><rect x="3099.6" y="248.31" width="4" height="204" fill="url(#vg)" opacity="0.055" style="mix-blend-mode:plus-lighter"/><rect x="3103.6" y="248.1" width="4" height="204" fill="url(#vg)" opacity="0.054" style="mix-blend-mode:plus-lighter"/><rect x="3107.6" y="247.88" width="4" height="204" fill="url(#vg)" opacity="0.054" style="mix-blend-mode:plus-lighter"/><rect x="3111.6" y="247.67" width="4" height="204" fill="url(#vg)" opacity="0.053" style="mix-blend-mode:plus-lighter"/><rect x="3115.6" y="247.45" width="4" height="204" fill="url(#vg)" opacity="0.052" style="mix-blend-mode:plus-lighter"/><rect x="3119.6" y="247.23" width="4" height="204" fill="url(#vg)" opacity="0.052" style="mix-blend-mode:plus-lighter"/><rect x="3123.6" y="247.02" width="4" height="204" fill="url(#vg)" opacity="0.051" style="mix-blend-mode:plus-lighter"/><rect x="3127.6" y="246.8" width="4" height="204" fill="url(#vg)" opacity="0.051" style="mix-blend-mode:plus-lighter"/><rect x="3131.6" y="246.59" width="4" height="204" fill="url(#vg)" opacity="0.050" style="mix-blend-mode:plus-lighter"/><rect x="3135.6" y="246.37" width="4" height="204" fill="url(#vg)" opacity="0.049" style="mix-blend-mode:plus-lighter"/><rect x="3139.6" y="246.15" width="4" height="204" fill="url(#vg)" opacity="0.049" style="mix-blend-mode:plus-lighter"/><rect x="3143.6" y="245.94" width="4" height="204" fill="url(#vg)" opacity="0.048" style="mix-blend-mode:plus-lighter"/><rect x="3147.6" y="245.72" width="4" height="204" fill="url(#vg)" opacity="0.048" style="mix-blend-mode:plus-lighter"/><rect x="3151.6" y="245.51" width="4" height="204" fill="url(#vg)" opacity="0.047" style="mix-blend-mode:plus-lighter"/><rect x="3155.6" y="245.29" width="4" height="204" fill="url(#vg)" opacity="0.046" style="mix-blend-mode:plus-lighter"/><rect x="3159.6" y="245.07" width="4" height="204" fill="url(#vg)" opacity="0.046" style="mix-blend-mode:plus-lighter"/><rect x="3163.6" y="244.86" width="4" height="204" fill="url(#vg)" opacity="0.045" style="mix-blend-mode:plus-lighter"/><rect x="3167.6" y="244.64" width="4" height="204" fill="url(#vg)" opacity="0.045" style="mix-blend-mode:plus-lighter"/><rect x="3171.6" y="244.43" width="4" height="204" fill="url(#vg)" opacity="0.044" style="mix-blend-mode:plus-lighter"/><rect x="3175.6" y="244.21" width="4" height="204" fill="url(#vg)" opacity="0.043" style="mix-blend-mode:plus-lighter"/><rect x="3179.6" y="243.99" width="4" height="204" fill="url(#vg)" opacity="0.043" style="mix-blend-mode:plus-lighter"/><rect x="3183.6" y="243.78" width="4" height="204" fill="url(#vg)" opacity="0.042" style="mix-blend-mode:plus-lighter"/><rect x="3187.6" y="243.56" width="4" height="204" fill="url(#vg)" opacity="0.042" style="mix-blend-mode:plus-lighter"/><rect x="3191.6" y="243.35" width="4" height="204" fill="url(#vg)" opacity="0.041" style="mix-blend-mode:plus-lighter"/><rect x="3195.6" y="243.13" width="4" height="204" fill="url(#vg)" opacity="0.040" style="mix-blend-mode:plus-lighter"/><rect x="3199.6" y="242.93" width="4" height="204" fill="url(#vg)" opacity="0.039" style="mix-blend-mode:plus-lighter"/><rect x="3203.6" y="242.77" width="4" height="204" fill="url(#vg)" opacity="0.038" style="mix-blend-mode:plus-lighter"/><rect x="3207.6" y="242.6" width="4" height="204" fill="url(#vg)" opacity="0.037" style="mix-blend-mode:plus-lighter"/><rect x="3211.6" y="242.43" width="4" height="204" fill="url(#vg)" opacity="0.035" style="mix-blend-mode:plus-lighter"/><rect x="3215.6" y="242.27" width="4" height="204" fill="url(#vg)" opacity="0.034" style="mix-blend-mode:plus-lighter"/><rect x="3219.6" y="242.1" width="4" height="204" fill="url(#vg)" opacity="0.033" style="mix-blend-mode:plus-lighter"/><rect x="3223.6" y="241.93" width="4" height="204" fill="url(#vg)" opacity="0.031" style="mix-blend-mode:plus-lighter"/><rect x="3227.6" y="241.77" width="4" height="204" fill="url(#vg)" opacity="0.030" style="mix-blend-mode:plus-lighter"/><rect x="3231.6" y="241.6" width="4" height="204" fill="url(#vg)" opacity="0.029" style="mix-blend-mode:plus-lighter"/><rect x="3235.6" y="241.43" width="4" height="204" fill="url(#vg)" opacity="0.027" style="mix-blend-mode:plus-lighter"/><rect x="3239.6" y="241.27" width="4" height="204" fill="url(#vg)" opacity="0.026" style="mix-blend-mode:plus-lighter"/><rect x="3243.6" y="241.1" width="4" height="204" fill="url(#vg)" opacity="0.025" style="mix-blend-mode:plus-lighter"/><rect x="3247.6" y="240.93" width="4" height="204" fill="url(#vg)" opacity="0.023" style="mix-blend-mode:plus-lighter"/><rect x="3251.6" y="240.77" width="4" height="204" fill="url(#vg)" opacity="0.022" style="mix-blend-mode:plus-lighter"/><rect x="3255.6" y="240.6" width="4" height="204" fill="url(#vg)" opacity="0.021" style="mix-blend-mode:plus-lighter"/><rect x="3259.6" y="240.43" width="4" height="204" fill="url(#vg)" opacity="0.019" style="mix-blend-mode:plus-lighter"/><rect x="3263.6" y="240.27" width="4" height="204" fill="url(#vg)" opacity="0.018" style="mix-blend-mode:plus-lighter"/><rect x="3267.6" y="240.1" width="4" height="204" fill="url(#vg)" opacity="0.017" style="mix-blend-mode:plus-lighter"/><rect x="3271.6" y="239.93" width="4" height="204" fill="url(#vg)" opacity="0.015" style="mix-blend-mode:plus-lighter"/><rect x="3275.6" y="239.77" width="4" height="204" fill="url(#vg)" opacity="0.014" style="mix-blend-mode:plus-lighter"/><rect x="3279.6" y="239.6" width="4" height="204" fill="url(#vg)" opacity="0.013" style="mix-blend-mode:plus-lighter"/><rect x="3283.6" y="239.43" width="4" height="204" fill="url(#vg)" opacity="0.011" style="mix-blend-mode:plus-lighter"/><rect x="3287.6" y="239.27" width="4" height="204" fill="url(#vg)" opacity="0.010" style="mix-blend-mode:plus-lighter"/><rect x="3291.6" y="239.1" width="4" height="204" fill="url(#vg)" opacity="0.009" style="mix-blend-mode:plus-lighter"/><rect x="3295.6" y="238.93" width="4" height="204" fill="url(#vg)" opacity="0.007" style="mix-blend-mode:plus-lighter"/><rect x="3299.6" y="238.77" width="4" height="204" fill="url(#vg)" opacity="0.006" style="mix-blend-mode:plus-lighter"/><rect x="3303.6" y="238.6" width="4" height="204" fill="url(#vg)" opacity="0.005" style="mix-blend-mode:plus-lighter"/><rect x="2339.6" y="-170" width="4" height="420" fill="url(#vg)" opacity="0.005" style="mix-blend-mode:plus-lighter"/><rect x="2343.6" y="-170" width="4" height="420" fill="url(#vg)" opacity="0.006" style="mix-blend-mode:plus-lighter"/><rect x="2347.6" y="-170" width="4" height="420" fill="url(#vg)" opacity="0.008" style="mix-blend-mode:plus-lighter"/><rect x="2351.6" y="-170" width="4" height="420" fill="url(#vg)" opacity="0.009" style="mix-blend-mode:plus-lighter"/><rect x="2355.6" y="-170" width="4" height="420" fill="url(#vg)" opacity="0.011" style="mix-blend-mode:plus-lighter"/><rect x="2359.6" y="-170" width="4" height="420" fill="url(#vg)" opacity="0.012" style="mix-blend-mode:plus-lighter"/><rect x="2363.6" y="-170" width="4" height="420" fill="url(#vg)" opacity="0.014" style="mix-blend-mode:plus-lighter"/><rect x="2367.6" y="-170" width="4" height="420" fill="url(#vg)" opacity="0.015" style="mix-blend-mode:plus-lighter"/><rect x="2371.6" y="-170" width="4" height="420" fill="url(#vg)" opacity="0.017" style="mix-blend-mode:plus-lighter"/><rect x="2375.6" y="-170" width="4" height="420" fill="url(#vg)" opacity="0.019" style="mix-blend-mode:plus-lighter"/><rect x="2379.6" y="-170" width="4" height="420" fill="url(#vg)" opacity="0.020" style="mix-blend-mode:plus-lighter"/><rect x="2383.6" y="-170" width="4" height="420" fill="url(#vg)" opacity="0.022" style="mix-blend-mode:plus-lighter"/><rect x="2387.6" y="-170" width="4" height="420" fill="url(#vg)" opacity="0.023" style="mix-blend-mode:plus-lighter"/><rect x="2391.6" y="-170" width="4" height="420" fill="url(#vg)" opacity="0.025" style="mix-blend-mode:plus-lighter"/><rect x="2395.6" y="-170" width="4" height="420" fill="url(#vg)" opacity="0.026" style="mix-blend-mode:plus-lighter"/><rect x="2399.6" y="-170" width="4" height="420" fill="url(#vg)" opacity="0.028" style="mix-blend-mode:plus-lighter"/><rect x="2403.6" y="-170" width="4" height="420" fill="url(#vg)" opacity="0.029" style="mix-blend-mode:plus-lighter"/><rect x="2407.6" y="-170" width="4" height="420" fill="url(#vg)" opacity="0.031" style="mix-blend-mode:plus-lighter"/><rect x="2411.6" y="-170" width="4" height="420" fill="url(#vg)" opacity="0.033" style="mix-blend-mode:plus-lighter"/><rect x="2415.6" y="-170" width="4" height="420" fill="url(#vg)" opacity="0.034" style="mix-blend-mode:plus-lighter"/><rect x="2419.6" y="-170" width="4" height="420" fill="url(#vg)" opacity="0.035" style="mix-blend-mode:plus-lighter"/><rect x="2423.6" y="-170" width="4" height="420" fill="url(#vg)" opacity="0.035" style="mix-blend-mode:plus-lighter"/><rect x="2427.6" y="-170" width="4" height="420" fill="url(#vg)" opacity="0.035" style="mix-blend-mode:plus-lighter"/><rect x="2431.6" y="-170" width="4" height="420" fill="url(#vg)" opacity="0.035" style="mix-blend-mode:plus-lighter"/><rect x="2435.6" y="-170" width="4" height="420" fill="url(#vg)" opacity="0.035" style="mix-blend-mode:plus-lighter"/><rect x="2439.6" y="-170" width="4" height="420" fill="url(#vg)" opacity="0.035" style="mix-blend-mode:plus-lighter"/><rect x="2443.6" y="-170" width="4" height="420" fill="url(#vg)" opacity="0.036" style="mix-blend-mode:plus-lighter"/><rect x="2447.6" y="-170" width="4" height="420" fill="url(#vg)" opacity="0.036" style="mix-blend-mode:plus-lighter"/><rect x="2451.6" y="-170" width="4" height="420" fill="url(#vg)" opacity="0.036" style="mix-blend-mode:plus-lighter"/><rect x="2455.6" y="-170" width="4" height="420" fill="url(#vg)" opacity="0.036" style="mix-blend-mode:plus-lighter"/><rect x="2459.6" y="-170" width="4" height="420" fill="url(#vg)" opacity="0.036" style="mix-blend-mode:plus-lighter"/><rect x="2463.6" y="-170" width="4" height="420" fill="url(#vg)" opacity="0.036" style="mix-blend-mode:plus-lighter"/><rect x="2467.6" y="-170" width="4" height="420" fill="url(#vg)" opacity="0.036" style="mix-blend-mode:plus-lighter"/><rect x="2471.6" y="-170" width="4" height="420" fill="url(#vg)" opacity="0.036" style="mix-blend-mode:plus-lighter"/><rect x="2475.6" y="-170" width="4" height="420" fill="url(#vg)" opacity="0.036" style="mix-blend-mode:plus-lighter"/><rect x="2479.6" y="-170" width="4" height="420" fill="url(#vg)" opacity="0.036" style="mix-blend-mode:plus-lighter"/><rect x="2483.6" y="-170" width="4" height="420" fill="url(#vg)" opacity="0.036" style="mix-blend-mode:plus-lighter"/><rect x="2487.6" y="-170" width="4" height="420" fill="url(#vg)" opacity="0.036" style="mix-blend-mode:plus-lighter"/><rect x="2491.6" y="-170" width="4" height="420" fill="url(#vg)" opacity="0.037" style="mix-blend-mode:plus-lighter"/><rect x="2495.6" y="-170" width="4" height="420" fill="url(#vg)" opacity="0.037" style="mix-blend-mode:plus-lighter"/><rect x="2499.6" y="-170" width="4" height="420" fill="url(#vg)" opacity="0.037" style="mix-blend-mode:plus-lighter"/><rect x="2503.6" y="-170" width="4" height="420" fill="url(#vg)" opacity="0.037" style="mix-blend-mode:plus-lighter"/><rect x="2507.6" y="-170" width="4" height="420" fill="url(#vg)" opacity="0.037" style="mix-blend-mode:plus-lighter"/><rect x="2511.6" y="-170" width="4" height="420" fill="url(#vg)" opacity="0.037" style="mix-blend-mode:plus-lighter"/><rect x="2515.6" y="-170" width="4" height="420" fill="url(#vg)" opacity="0.037" style="mix-blend-mode:plus-lighter"/><rect x="2519.6" y="-170" width="4" height="420" fill="url(#vg)" opacity="0.037" style="mix-blend-mode:plus-lighter"/><rect x="2523.6" y="-170" width="4" height="420" fill="url(#vg)" opacity="0.037" style="mix-blend-mode:plus-lighter"/><rect x="2527.6" y="-170" width="4" height="420" fill="url(#vg)" opacity="0.037" style="mix-blend-mode:plus-lighter"/><rect x="2531.6" y="-170" width="4" height="420" fill="url(#vg)" opacity="0.037" style="mix-blend-mode:plus-lighter"/><rect x="2535.6" y="-170" width="4" height="420" fill="url(#vg)" opacity="0.037" style="mix-blend-mode:plus-lighter"/><rect x="2539.6" y="-170" width="4" height="420" fill="url(#vg)" opacity="0.038" style="mix-blend-mode:plus-lighter"/><rect x="2543.6" y="-170" width="4" height="420" fill="url(#vg)" opacity="0.038" style="mix-blend-mode:plus-lighter"/><rect x="2547.6" y="-170" width="4" height="420" fill="url(#vg)" opacity="0.038" style="mix-blend-mode:plus-lighter"/><rect x="2551.6" y="-170" width="4" height="420" fill="url(#vg)" opacity="0.038" style="mix-blend-mode:plus-lighter"/><rect x="2555.6" y="-170" width="4" height="420" fill="url(#vg)" opacity="0.038" style="mix-blend-mode:plus-lighter"/><rect x="2559.6" y="-170" width="4" height="420" fill="url(#vg)" opacity="0.038" style="mix-blend-mode:plus-lighter"/><rect x="2563.6" y="-170" width="4" height="420" fill="url(#vg)" opacity="0.038" style="mix-blend-mode:plus-lighter"/><rect x="2567.6" y="-170" width="4" height="420" fill="url(#vg)" opacity="0.038" style="mix-blend-mode:plus-lighter"/><rect x="2571.6" y="-170" width="4" height="420" fill="url(#vg)" opacity="0.038" style="mix-blend-mode:plus-lighter"/><rect x="2575.6" y="-170" width="4" height="420" fill="url(#vg)" opacity="0.038" style="mix-blend-mode:plus-lighter"/><rect x="2579.6" y="-170" width="4" height="420" fill="url(#vg)" opacity="0.038" style="mix-blend-mode:plus-lighter"/><rect x="2583.6" y="-170" width="4" height="420" fill="url(#vg)" opacity="0.038" style="mix-blend-mode:plus-lighter"/><rect x="2587.6" y="-170" width="4" height="420" fill="url(#vg)" opacity="0.039" style="mix-blend-mode:plus-lighter"/><rect x="2591.6" y="-170" width="4" height="420" fill="url(#vg)" opacity="0.039" style="mix-blend-mode:plus-lighter"/><rect x="2595.6" y="-170" width="4" height="420" fill="url(#vg)" opacity="0.039" style="mix-blend-mode:plus-lighter"/><rect x="2599.6" y="-170" width="4" height="420" fill="url(#vg)" opacity="0.039" style="mix-blend-mode:plus-lighter"/><rect x="2603.6" y="-170" width="4" height="420" fill="url(#vg)" opacity="0.039" style="mix-blend-mode:plus-lighter"/><rect x="2607.6" y="-170" width="4" height="420" fill="url(#vg)" opacity="0.039" style="mix-blend-mode:plus-lighter"/><rect x="2611.6" y="-170" width="4" height="420" fill="url(#vg)" opacity="0.039" style="mix-blend-mode:plus-lighter"/><rect x="2615.6" y="-170" width="4" height="420" fill="url(#vg)" opacity="0.039" style="mix-blend-mode:plus-lighter"/><rect x="2619.6" y="-170" width="4" height="420" fill="url(#vg)" opacity="0.039" style="mix-blend-mode:plus-lighter"/><rect x="2623.6" y="-170" width="4" height="420" fill="url(#vg)" opacity="0.039" style="mix-blend-mode:plus-lighter"/><rect x="2627.6" y="-170" width="4" height="420" fill="url(#vg)" opacity="0.039" style="mix-blend-mode:plus-lighter"/><rect x="2631.6" y="-170" width="4" height="420" fill="url(#vg)" opacity="0.039" style="mix-blend-mode:plus-lighter"/><rect x="2635.6" y="-170" width="4" height="420" fill="url(#vg)" opacity="0.040" style="mix-blend-mode:plus-lighter"/><rect x="2639.6" y="-170" width="4" height="420" fill="url(#vg)" opacity="0.040" style="mix-blend-mode:plus-lighter"/><rect x="2643.6" y="-170" width="4" height="420" fill="url(#vg)" opacity="0.040" style="mix-blend-mode:plus-lighter"/><rect x="2647.6" y="-170" width="4" height="420" fill="url(#vg)" opacity="0.040" style="mix-blend-mode:plus-lighter"/><rect x="2651.6" y="-170" width="4" height="420" fill="url(#vg)" opacity="0.040" style="mix-blend-mode:plus-lighter"/><rect x="2655.6" y="-170" width="4" height="420" fill="url(#vg)" opacity="0.040" style="mix-blend-mode:plus-lighter"/><rect x="2659.6" y="-170" width="4" height="420" fill="url(#vg)" opacity="0.040" style="mix-blend-mode:plus-lighter"/><rect x="2663.6" y="-170" width="4" height="420" fill="url(#vg)" opacity="0.040" style="mix-blend-mode:plus-lighter"/><rect x="2667.6" y="-170" width="4" height="420" fill="url(#vg)" opacity="0.040" style="mix-blend-mode:plus-lighter"/><rect x="2671.6" y="-170" width="4" height="420" fill="url(#vg)" opacity="0.040" style="mix-blend-mode:plus-lighter"/><rect x="2675.6" y="-170" width="4" height="420" fill="url(#vg)" opacity="0.040" style="mix-blend-mode:plus-lighter"/><rect x="2679.6" y="-170" width="4" height="420" fill="url(#vg)" opacity="0.040" style="mix-blend-mode:plus-lighter"/><rect x="2683.6" y="-170" width="4" height="420" fill="url(#vg)" opacity="0.041" style="mix-blend-mode:plus-lighter"/><rect x="2687.6" y="-170" width="4" height="420" fill="url(#vg)" opacity="0.041" style="mix-blend-mode:plus-lighter"/><rect x="2691.6" y="-170" width="4" height="420" fill="url(#vg)" opacity="0.041" style="mix-blend-mode:plus-lighter"/><rect x="2695.6" y="-170" width="4" height="420" fill="url(#vg)" opacity="0.041" style="mix-blend-mode:plus-lighter"/><rect x="2699.6" y="-170" width="4" height="420" fill="url(#vg)" opacity="0.041" style="mix-blend-mode:plus-lighter"/><rect x="2703.6" y="-170" width="4" height="420" fill="url(#vg)" opacity="0.041" style="mix-blend-mode:plus-lighter"/><rect x="2707.6" y="-170" width="4" height="420" fill="url(#vg)" opacity="0.041" style="mix-blend-mode:plus-lighter"/><rect x="2711.6" y="-170" width="4" height="420" fill="url(#vg)" opacity="0.041" style="mix-blend-mode:plus-lighter"/><rect x="2715.6" y="-170" width="4" height="420" fill="url(#vg)" opacity="0.041" style="mix-blend-mode:plus-lighter"/><rect x="2719.6" y="-170" width="4" height="420" fill="url(#vg)" opacity="0.041" style="mix-blend-mode:plus-lighter"/><rect x="2723.6" y="-170" width="4" height="420" fill="url(#vg)" opacity="0.041" style="mix-blend-mode:plus-lighter"/><rect x="2727.6" y="-170" width="4" height="420" fill="url(#vg)" opacity="0.041" style="mix-blend-mode:plus-lighter"/><rect x="2731.6" y="-170" width="4" height="420" fill="url(#vg)" opacity="0.042" style="mix-blend-mode:plus-lighter"/><rect x="2735.6" y="-170" width="4" height="420" fill="url(#vg)" opacity="0.042" style="mix-blend-mode:plus-lighter"/><rect x="2739.6" y="-170" width="4" height="420" fill="url(#vg)" opacity="0.042" style="mix-blend-mode:plus-lighter"/><rect x="2743.6" y="-170" width="4" height="420" fill="url(#vg)" opacity="0.042" style="mix-blend-mode:plus-lighter"/><rect x="2747.6" y="-170" width="4" height="420" fill="url(#vg)" opacity="0.042" style="mix-blend-mode:plus-lighter"/><rect x="2751.6" y="-170" width="4" height="420" fill="url(#vg)" opacity="0.042" style="mix-blend-mode:plus-lighter"/><rect x="2755.6" y="-170" width="4" height="420" fill="url(#vg)" opacity="0.042" style="mix-blend-mode:plus-lighter"/><rect x="2759.6" y="-170" width="4" height="420" fill="url(#vg)" opacity="0.042" style="mix-blend-mode:plus-lighter"/><rect x="2763.6" y="-170" width="4" height="420" fill="url(#vg)" opacity="0.042" style="mix-blend-mode:plus-lighter"/><rect x="2767.6" y="-170" width="4" height="420" fill="url(#vg)" opacity="0.042" style="mix-blend-mode:plus-lighter"/><rect x="2771.6" y="-170" width="4" height="420" fill="url(#vg)" opacity="0.042" style="mix-blend-mode:plus-lighter"/><rect x="2775.6" y="-170" width="4" height="420" fill="url(#vg)" opacity="0.042" style="mix-blend-mode:plus-lighter"/><rect x="2779.6" y="-170" width="4" height="420" fill="url(#vg)" opacity="0.043" style="mix-blend-mode:plus-lighter"/><rect x="2783.6" y="-170" width="4" height="420" fill="url(#vg)" opacity="0.043" style="mix-blend-mode:plus-lighter"/><rect x="2787.6" y="-170" width="4" height="420" fill="url(#vg)" opacity="0.043" style="mix-blend-mode:plus-lighter"/><rect x="2791.6" y="-170" width="4" height="420" fill="url(#vg)" opacity="0.043" style="mix-blend-mode:plus-lighter"/><rect x="2795.6" y="-170" width="4" height="420" fill="url(#vg)" opacity="0.043" style="mix-blend-mode:plus-lighter"/><rect x="2799.6" y="-170" width="4" height="420" fill="url(#vg)" opacity="0.043" style="mix-blend-mode:plus-lighter"/><rect x="2803.6" y="-170" width="4" height="420" fill="url(#vg)" opacity="0.043" style="mix-blend-mode:plus-lighter"/><rect x="2807.6" y="-170" width="4" height="420" fill="url(#vg)" opacity="0.043" style="mix-blend-mode:plus-lighter"/><rect x="2811.6" y="-170" width="4" height="420" fill="url(#vg)" opacity="0.043" style="mix-blend-mode:plus-lighter"/><rect x="2815.6" y="-170" width="4" height="420" fill="url(#vg)" opacity="0.043" style="mix-blend-mode:plus-lighter"/><rect x="2819.6" y="-170" width="4" height="420" fill="url(#vg)" opacity="0.043" style="mix-blend-mode:plus-lighter"/><rect x="2823.6" y="-170" width="4" height="420" fill="url(#vg)" opacity="0.043" style="mix-blend-mode:plus-lighter"/><rect x="2827.6" y="-170" width="4" height="420" fill="url(#vg)" opacity="0.044" style="mix-blend-mode:plus-lighter"/><rect x="2831.6" y="-170" width="4" height="420" fill="url(#vg)" opacity="0.044" style="mix-blend-mode:plus-lighter"/><rect x="2835.6" y="-170" width="4" height="420" fill="url(#vg)" opacity="0.044" style="mix-blend-mode:plus-lighter"/><rect x="2839.6" y="-170" width="4" height="420" fill="url(#vg)" opacity="0.044" style="mix-blend-mode:plus-lighter"/><rect x="2843.6" y="-170" width="4" height="420" fill="url(#vg)" opacity="0.044" style="mix-blend-mode:plus-lighter"/><rect x="2847.6" y="-170" width="4" height="420" fill="url(#vg)" opacity="0.044" style="mix-blend-mode:plus-lighter"/><rect x="2851.6" y="-170" width="4" height="420" fill="url(#vg)" opacity="0.044" style="mix-blend-mode:plus-lighter"/><rect x="2855.6" y="-170" width="4" height="420" fill="url(#vg)" opacity="0.044" style="mix-blend-mode:plus-lighter"/><rect x="2859.6" y="-170" width="4" height="420" fill="url(#vg)" opacity="0.044" style="mix-blend-mode:plus-lighter"/><rect x="2863.6" y="-170" width="4" height="420" fill="url(#vg)" opacity="0.044" style="mix-blend-mode:plus-lighter"/><rect x="2867.6" y="-170" width="4" height="420" fill="url(#vg)" opacity="0.044" style="mix-blend-mode:plus-lighter"/><rect x="2871.6" y="-170" width="4" height="420" fill="url(#vg)" opacity="0.044" style="mix-blend-mode:plus-lighter"/><rect x="2875.6" y="-170" width="4" height="420" fill="url(#vg)" opacity="0.045" style="mix-blend-mode:plus-lighter"/><rect x="2879.6" y="-170" width="4" height="420" fill="url(#vg)" opacity="0.045" style="mix-blend-mode:plus-lighter"/><rect x="2883.6" y="-170" width="4" height="420" fill="url(#vg)" opacity="0.045" style="mix-blend-mode:plus-lighter"/><rect x="2887.6" y="-170" width="4" height="420" fill="url(#vg)" opacity="0.045" style="mix-blend-mode:plus-lighter"/><rect x="2891.6" y="-170" width="4" height="420" fill="url(#vg)" opacity="0.045" style="mix-blend-mode:plus-lighter"/><rect x="2895.6" y="-170" width="4" height="420" fill="url(#vg)" opacity="0.045" style="mix-blend-mode:plus-lighter"/><rect x="2899.6" y="-170" width="4" height="420" fill="url(#vg)" opacity="0.045" style="mix-blend-mode:plus-lighter"/><rect x="2903.6" y="-170" width="4" height="420" fill="url(#vg)" opacity="0.045" style="mix-blend-mode:plus-lighter"/><rect x="2907.6" y="-170" width="4" height="420" fill="url(#vg)" opacity="0.044" style="mix-blend-mode:plus-lighter"/><rect x="2911.6" y="-170" width="4" height="420" fill="url(#vg)" opacity="0.044" style="mix-blend-mode:plus-lighter"/><rect x="2915.6" y="-170" width="4" height="420" fill="url(#vg)" opacity="0.044" style="mix-blend-mode:plus-lighter"/><rect x="2919.6" y="-170" width="4" height="420" fill="url(#vg)" opacity="0.044" style="mix-blend-mode:plus-lighter"/><rect x="2923.6" y="-170" width="4" height="420" fill="url(#vg)" opacity="0.043" style="mix-blend-mode:plus-lighter"/><rect x="2927.6" y="-170" width="4" height="420" fill="url(#vg)" opacity="0.043" style="mix-blend-mode:plus-lighter"/><rect x="2931.6" y="-170" width="4" height="420" fill="url(#vg)" opacity="0.043" style="mix-blend-mode:plus-lighter"/><rect x="2935.6" y="-170" width="4" height="420" fill="url(#vg)" opacity="0.043" style="mix-blend-mode:plus-lighter"/><rect x="2939.6" y="-170" width="4" height="420" fill="url(#vg)" opacity="0.043" style="mix-blend-mode:plus-lighter"/><rect x="2943.6" y="-170" width="4" height="420" fill="url(#vg)" opacity="0.042" style="mix-blend-mode:plus-lighter"/><rect x="2947.6" y="-170" width="4" height="420" fill="url(#vg)" opacity="0.042" style="mix-blend-mode:plus-lighter"/><rect x="2951.6" y="-170" width="4" height="420" fill="url(#vg)" opacity="0.042" style="mix-blend-mode:plus-lighter"/><rect x="2955.6" y="-170" width="4" height="420" fill="url(#vg)" opacity="0.042" style="mix-blend-mode:plus-lighter"/><rect x="2959.6" y="-170" width="4" height="420" fill="url(#vg)" opacity="0.041" style="mix-blend-mode:plus-lighter"/><rect x="2963.6" y="-170" width="4" height="420" fill="url(#vg)" opacity="0.041" style="mix-blend-mode:plus-lighter"/><rect x="2967.6" y="-170" width="4" height="420" fill="url(#vg)" opacity="0.041" style="mix-blend-mode:plus-lighter"/><rect x="2971.6" y="-170" width="4" height="420" fill="url(#vg)" opacity="0.041" style="mix-blend-mode:plus-lighter"/><rect x="2975.6" y="-170" width="4" height="420" fill="url(#vg)" opacity="0.040" style="mix-blend-mode:plus-lighter"/><rect x="2979.6" y="-170" width="4" height="420" fill="url(#vg)" opacity="0.040" style="mix-blend-mode:plus-lighter"/><rect x="2983.6" y="-170" width="4" height="420" fill="url(#vg)" opacity="0.040" style="mix-blend-mode:plus-lighter"/><rect x="2987.6" y="-170" width="4" height="420" fill="url(#vg)" opacity="0.040" style="mix-blend-mode:plus-lighter"/><rect x="2991.6" y="-170" width="4" height="420" fill="url(#vg)" opacity="0.039" style="mix-blend-mode:plus-lighter"/><rect x="2995.6" y="-170" width="4" height="420" fill="url(#vg)" opacity="0.039" style="mix-blend-mode:plus-lighter"/><rect x="2999.6" y="-170" width="4" height="420" fill="url(#vg)" opacity="0.039" style="mix-blend-mode:plus-lighter"/><rect x="3003.6" y="-170" width="4" height="420" fill="url(#vg)" opacity="0.039" style="mix-blend-mode:plus-lighter"/><rect x="3007.6" y="-170" width="4" height="420" fill="url(#vg)" opacity="0.038" style="mix-blend-mode:plus-lighter"/><rect x="3011.6" y="-170" width="4" height="420" fill="url(#vg)" opacity="0.038" style="mix-blend-mode:plus-lighter"/><rect x="3015.6" y="-170" width="4" height="420" fill="url(#vg)" opacity="0.038" style="mix-blend-mode:plus-lighter"/><rect x="3019.6" y="-170" width="4" height="420" fill="url(#vg)" opacity="0.038" style="mix-blend-mode:plus-lighter"/><rect x="3023.6" y="-170" width="4" height="420" fill="url(#vg)" opacity="0.037" style="mix-blend-mode:plus-lighter"/><rect x="3027.6" y="-170" width="4" height="420" fill="url(#vg)" opacity="0.037" style="mix-blend-mode:plus-lighter"/><rect x="3031.6" y="-170" width="4" height="420" fill="url(#vg)" opacity="0.037" style="mix-blend-mode:plus-lighter"/><rect x="3035.6" y="-170" width="4" height="420" fill="url(#vg)" opacity="0.037" style="mix-blend-mode:plus-lighter"/><rect x="3039.6" y="-170" width="4" height="420" fill="url(#vg)" opacity="0.037" style="mix-blend-mode:plus-lighter"/><rect x="3043.6" y="-170" width="4" height="420" fill="url(#vg)" opacity="0.036" style="mix-blend-mode:plus-lighter"/><rect x="3047.6" y="-170" width="4" height="420" fill="url(#vg)" opacity="0.036" style="mix-blend-mode:plus-lighter"/><rect x="3051.6" y="-170" width="4" height="420" fill="url(#vg)" opacity="0.036" style="mix-blend-mode:plus-lighter"/><rect x="3055.6" y="-170" width="4" height="420" fill="url(#vg)" opacity="0.036" style="mix-blend-mode:plus-lighter"/><rect x="3059.6" y="-170" width="4" height="420" fill="url(#vg)" opacity="0.035" style="mix-blend-mode:plus-lighter"/><rect x="3063.6" y="-170" width="4" height="420" fill="url(#vg)" opacity="0.035" style="mix-blend-mode:plus-lighter"/><rect x="3067.6" y="-170" width="4" height="420" fill="url(#vg)" opacity="0.035" style="mix-blend-mode:plus-lighter"/><rect x="3071.6" y="-170" width="4" height="420" fill="url(#vg)" opacity="0.035" style="mix-blend-mode:plus-lighter"/><rect x="3075.6" y="-170" width="4" height="420" fill="url(#vg)" opacity="0.034" style="mix-blend-mode:plus-lighter"/><rect x="3079.6" y="-170" width="4" height="420" fill="url(#vg)" opacity="0.034" style="mix-blend-mode:plus-lighter"/><rect x="3083.6" y="-170" width="4" height="420" fill="url(#vg)" opacity="0.034" style="mix-blend-mode:plus-lighter"/><rect x="3087.6" y="-170" width="4" height="420" fill="url(#vg)" opacity="0.034" style="mix-blend-mode:plus-lighter"/><rect x="3091.6" y="-170" width="4" height="420" fill="url(#vg)" opacity="0.033" style="mix-blend-mode:plus-lighter"/><rect x="3095.6" y="-170" width="4" height="420" fill="url(#vg)" opacity="0.033" style="mix-blend-mode:plus-lighter"/><rect x="3099.6" y="-170" width="4" height="420" fill="url(#vg)" opacity="0.033" style="mix-blend-mode:plus-lighter"/><rect x="3103.6" y="-170" width="4" height="420" fill="url(#vg)" opacity="0.033" style="mix-blend-mode:plus-lighter"/><rect x="3107.6" y="-170" width="4" height="420" fill="url(#vg)" opacity="0.032" style="mix-blend-mode:plus-lighter"/><rect x="3111.6" y="-170" width="4" height="420" fill="url(#vg)" opacity="0.032" style="mix-blend-mode:plus-lighter"/><rect x="3115.6" y="-170" width="4" height="420" fill="url(#vg)" opacity="0.032" style="mix-blend-mode:plus-lighter"/><rect x="3119.6" y="-170" width="4" height="420" fill="url(#vg)" opacity="0.032" style="mix-blend-mode:plus-lighter"/><rect x="3123.6" y="-170" width="4" height="420" fill="url(#vg)" opacity="0.031" style="mix-blend-mode:plus-lighter"/><rect x="3127.6" y="-170" width="4" height="420" fill="url(#vg)" opacity="0.031" style="mix-blend-mode:plus-lighter"/><rect x="3131.6" y="-170" width="4" height="420" fill="url(#vg)" opacity="0.031" style="mix-blend-mode:plus-lighter"/><rect x="3135.6" y="-170" width="4" height="420" fill="url(#vg)" opacity="0.031" style="mix-blend-mode:plus-lighter"/><rect x="3139.6" y="-170" width="4" height="420" fill="url(#vg)" opacity="0.031" style="mix-blend-mode:plus-lighter"/><rect x="3143.6" y="-170" width="4" height="420" fill="url(#vg)" opacity="0.030" style="mix-blend-mode:plus-lighter"/><rect x="3147.6" y="-170" width="4" height="420" fill="url(#vg)" opacity="0.030" style="mix-blend-mode:plus-lighter"/><rect x="3151.6" y="-170" width="4" height="420" fill="url(#vg)" opacity="0.029" style="mix-blend-mode:plus-lighter"/><rect x="3155.6" y="-170" width="4" height="420" fill="url(#vg)" opacity="0.028" style="mix-blend-mode:plus-lighter"/><rect x="3159.6" y="-170" width="4" height="420" fill="url(#vg)" opacity="0.027" style="mix-blend-mode:plus-lighter"/><rect x="3163.6" y="-170" width="4" height="420" fill="url(#vg)" opacity="0.025" style="mix-blend-mode:plus-lighter"/><rect x="3167.6" y="-170" width="4" height="420" fill="url(#vg)" opacity="0.024" style="mix-blend-mode:plus-lighter"/><rect x="3171.6" y="-170" width="4" height="420" fill="url(#vg)" opacity="0.023" style="mix-blend-mode:plus-lighter"/><rect x="3175.6" y="-170" width="4" height="420" fill="url(#vg)" opacity="0.022" style="mix-blend-mode:plus-lighter"/><rect x="3179.6" y="-170" width="4" height="420" fill="url(#vg)" opacity="0.021" style="mix-blend-mode:plus-lighter"/><rect x="3183.6" y="-170" width="4" height="420" fill="url(#vg)" opacity="0.019" style="mix-blend-mode:plus-lighter"/><rect x="3187.6" y="-170" width="4" height="420" fill="url(#vg)" opacity="0.018" style="mix-blend-mode:plus-lighter"/><rect x="3191.6" y="-170" width="4" height="420" fill="url(#vg)" opacity="0.017" style="mix-blend-mode:plus-lighter"/><rect x="3195.6" y="-170" width="4" height="420" fill="url(#vg)" opacity="0.016" style="mix-blend-mode:plus-lighter"/><rect x="3199.6" y="-170" width="4" height="420" fill="url(#vg)" opacity="0.015" style="mix-blend-mode:plus-lighter"/><rect x="3203.6" y="-170" width="4" height="420" fill="url(#vg)" opacity="0.013" style="mix-blend-mode:plus-lighter"/><rect x="3207.6" y="-170" width="4" height="420" fill="url(#vg)" opacity="0.012" style="mix-blend-mode:plus-lighter"/><rect x="3211.6" y="-170" width="4" height="420" fill="url(#vg)" opacity="0.011" style="mix-blend-mode:plus-lighter"/><rect x="3215.6" y="-170" width="4" height="420" fill="url(#vg)" opacity="0.010" style="mix-blend-mode:plus-lighter"/><rect x="3219.6" y="-170" width="4" height="420" fill="url(#vg)" opacity="0.009" style="mix-blend-mode:plus-lighter"/><rect x="3223.6" y="-170" width="4" height="420" fill="url(#vg)" opacity="0.007" style="mix-blend-mode:plus-lighter"/><rect x="3227.6" y="-170" width="4" height="420" fill="url(#vg)" opacity="0.006" style="mix-blend-mode:plus-lighter"/><rect x="3231.6" y="-170" width="4" height="420" fill="url(#vg)" opacity="0.005" style="mix-blend-mode:plus-lighter"/><rect x="2214" y="-22.9" width="4" height="625.79" fill="url(#vg)" opacity="0.024" style="mix-blend-mode:plus-lighter"/><rect x="2218" y="-22.62" width="4" height="625.23" fill="url(#vg)" opacity="0.047" style="mix-blend-mode:plus-lighter"/><rect x="2222" y="-22.34" width="4" height="624.67" fill="url(#vg)" opacity="0.071" style="mix-blend-mode:plus-lighter"/><rect x="2226" y="-22.06" width="4" height="624.11" fill="url(#vg)" opacity="0.095" style="mix-blend-mode:plus-lighter"/><rect x="2230" y="-21.78" width="4" height="623.55" fill="url(#vg)" opacity="0.119" style="mix-blend-mode:plus-lighter"/><rect x="2234" y="-21.5" width="4" height="622.99" fill="url(#vg)" opacity="0.142" style="mix-blend-mode:plus-lighter"/><rect x="2238" y="-21.21" width="4" height="622.43" fill="url(#vg)" opacity="0.154" style="mix-blend-mode:plus-lighter"/><rect x="2242" y="-20.93" width="4" height="621.87" fill="url(#vg)" opacity="0.130" style="mix-blend-mode:plus-lighter"/><rect x="2246" y="-20.65" width="4" height="621.31" fill="url(#vg)" opacity="0.107" style="mix-blend-mode:plus-lighter"/><rect x="2250" y="-20.37" width="4" height="620.75" fill="url(#vg)" opacity="0.083" style="mix-blend-mode:plus-lighter"/><rect x="2254" y="-20.09" width="4" height="620.19" fill="url(#vg)" opacity="0.059" style="mix-blend-mode:plus-lighter"/><rect x="2258" y="-19.81" width="4" height="619.63" fill="url(#vg)" opacity="0.036" style="mix-blend-mode:plus-lighter"/><rect x="2262" y="-19.53" width="4" height="619.07" fill="url(#vg)" opacity="0.012" style="mix-blend-mode:plus-lighter"/><rect x="2286" y="-17.85" width="4" height="615.7" fill="url(#vg)" opacity="0.010" style="mix-blend-mode:plus-lighter"/><rect x="2290" y="-17.57" width="4" height="615.14" fill="url(#vg)" opacity="0.030" style="mix-blend-mode:plus-lighter"/><rect x="2294" y="-17.29" width="4" height="614.58" fill="url(#vg)" opacity="0.050" style="mix-blend-mode:plus-lighter"/><rect x="2298" y="-17.01" width="4" height="614.02" fill="url(#vg)" opacity="0.070" style="mix-blend-mode:plus-lighter"/><rect x="2302" y="-16.73" width="4" height="613.46" fill="url(#vg)" opacity="0.090" style="mix-blend-mode:plus-lighter"/><rect x="2306" y="-16.45" width="4" height="612.9" fill="url(#vg)" opacity="0.110" style="mix-blend-mode:plus-lighter"/><rect x="2310" y="-16.17" width="4" height="612.34" fill="url(#vg)" opacity="0.130" style="mix-blend-mode:plus-lighter"/><rect x="2314" y="-15.89" width="4" height="611.78" fill="url(#vg)" opacity="0.130" style="mix-blend-mode:plus-lighter"/><rect x="2318" y="-15.61" width="4" height="611.21" fill="url(#vg)" opacity="0.110" style="mix-blend-mode:plus-lighter"/><rect x="2322" y="-15.33" width="4" height="610.65" fill="url(#vg)" opacity="0.090" style="mix-blend-mode:plus-lighter"/><rect x="2326" y="-15.05" width="4" height="610.09" fill="url(#vg)" opacity="0.070" style="mix-blend-mode:plus-lighter"/><rect x="2330" y="-14.77" width="4" height="609.53" fill="url(#vg)" opacity="0.050" style="mix-blend-mode:plus-lighter"/><rect x="2334" y="-14.49" width="4" height="608.97" fill="url(#vg)" opacity="0.030" style="mix-blend-mode:plus-lighter"/><rect x="2338" y="-14.21" width="4" height="608.41" fill="url(#vg)" opacity="0.010" style="mix-blend-mode:plus-lighter"/><rect x="2920" y="-130.47" width="4" height="720" fill="url(#vg)" opacity="0.032" style="mix-blend-mode:plus-lighter"/><rect x="2924" y="-130.56" width="4" height="720" fill="url(#vg)" opacity="0.064" style="mix-blend-mode:plus-lighter"/><rect x="2928" y="-130.65" width="4" height="720" fill="url(#vg)" opacity="0.096" style="mix-blend-mode:plus-lighter"/><rect x="2932" y="-130.73" width="4" height="720" fill="url(#vg)" opacity="0.128" style="mix-blend-mode:plus-lighter"/><rect x="2936" y="-130.82" width="4" height="720" fill="url(#vg)" opacity="0.160" style="mix-blend-mode:plus-lighter"/><rect x="2940" y="-130.91" width="4" height="720" fill="url(#vg)" opacity="0.192" style="mix-blend-mode:plus-lighter"/><rect x="2944" y="-130.99" width="4" height="720" fill="url(#vg)" opacity="0.175" style="mix-blend-mode:plus-lighter"/><rect x="2948" y="-131.08" width="4" height="720" fill="url(#vg)" opacity="0.141" style="mix-blend-mode:plus-lighter"/><rect x="2952" y="-131.16" width="4" height="720" fill="url(#vg)" opacity="0.107" style="mix-blend-mode:plus-lighter"/><rect x="2956" y="-131.25" width="4" height="720" fill="url(#vg)" opacity="0.074" style="mix-blend-mode:plus-lighter"/><rect x="2960" y="-131.34" width="4" height="720" fill="url(#vg)" opacity="0.040" style="mix-blend-mode:plus-lighter"/><rect x="2964" y="-131.42" width="4" height="720" fill="url(#vg)" opacity="0.031" style="mix-blend-mode:plus-lighter"/><rect x="2968" y="-131.51" width="4" height="720" fill="url(#vg)" opacity="0.022" style="mix-blend-mode:plus-lighter"/><rect x="2972" y="-131.59" width="4" height="720" fill="url(#vg)" opacity="0.013" style="mix-blend-mode:plus-lighter"/><rect x="2976" y="-131.68" width="4" height="720" fill="url(#vg)" opacity="0.004" style="mix-blend-mode:plus-lighter"/><rect x="2980" y="-131.77" width="4" height="720" fill="url(#vg)" opacity="0.011" style="mix-blend-mode:plus-lighter"/><rect x="2984" y="-131.85" width="4" height="720" fill="url(#vg)" opacity="0.034" style="mix-blend-mode:plus-lighter"/><rect x="2988" y="-131.94" width="4" height="720" fill="url(#vg)" opacity="0.057" style="mix-blend-mode:plus-lighter"/><rect x="2992" y="-132.03" width="4" height="720" fill="url(#vg)" opacity="0.080" style="mix-blend-mode:plus-lighter"/><rect x="2996" y="-132.11" width="4" height="720" fill="url(#vg)" opacity="0.103" style="mix-blend-mode:plus-lighter"/><rect x="3000" y="-132.2" width="4" height="720" fill="url(#vg)" opacity="0.126" style="mix-blend-mode:plus-lighter"/><rect x="3004" y="-132.28" width="4" height="720" fill="url(#vg)" opacity="0.149" style="mix-blend-mode:plus-lighter"/><rect x="3008" y="-132.37" width="4" height="720" fill="url(#vg)" opacity="0.144" style="mix-blend-mode:plus-lighter"/><rect x="3012" y="-132.46" width="4" height="720" fill="url(#vg)" opacity="0.112" style="mix-blend-mode:plus-lighter"/><rect x="3016" y="-132.54" width="4" height="720" fill="url(#vg)" opacity="0.080" style="mix-blend-mode:plus-lighter"/><rect x="3020" y="-132.63" width="4" height="720" fill="url(#vg)" opacity="0.048" style="mix-blend-mode:plus-lighter"/><rect x="3024" y="-132.72" width="4" height="720" fill="url(#vg)" opacity="0.016" style="mix-blend-mode:plus-lighter"/><rect x="3040" y="-133.06" width="4" height="720" fill="url(#vg)" opacity="0.006" style="mix-blend-mode:plus-lighter"/><rect x="3044" y="-133.15" width="4" height="720" fill="url(#vg)" opacity="0.030" style="mix-blend-mode:plus-lighter"/><rect x="3048" y="-133.23" width="4" height="720" fill="url(#vg)" opacity="0.054" style="mix-blend-mode:plus-lighter"/><rect x="3052" y="-133.32" width="4" height="720" fill="url(#vg)" opacity="0.078" style="mix-blend-mode:plus-lighter"/><rect x="3056" y="-133.41" width="4" height="720" fill="url(#vg)" opacity="0.102" style="mix-blend-mode:plus-lighter"/><rect x="3060" y="-133.49" width="4" height="720" fill="url(#vg)" opacity="0.126" style="mix-blend-mode:plus-lighter"/><rect x="3064" y="-133.58" width="4" height="720" fill="url(#vg)" opacity="0.150" style="mix-blend-mode:plus-lighter"/><rect x="3068" y="-133.66" width="4" height="720" fill="url(#vg)" opacity="0.174" style="mix-blend-mode:plus-lighter"/><rect x="3072" y="-133.75" width="4" height="720" fill="url(#vg)" opacity="0.155" style="mix-blend-mode:plus-lighter"/><rect x="3076" y="-133.84" width="4" height="720" fill="url(#vg)" opacity="0.123" style="mix-blend-mode:plus-lighter"/><rect x="3080" y="-133.92" width="4" height="720" fill="url(#vg)" opacity="0.090" style="mix-blend-mode:plus-lighter"/><rect x="3084" y="-134.01" width="4" height="720" fill="url(#vg)" opacity="0.057" style="mix-blend-mode:plus-lighter"/><rect x="3088" y="-134.09" width="4" height="720" fill="url(#vg)" opacity="0.025" style="mix-blend-mode:plus-lighter"/><rect x="3104" y="-134.44" width="4" height="720" fill="url(#vg)" opacity="0.007" style="mix-blend-mode:plus-lighter"/><rect x="3108" y="-134.53" width="4" height="720" fill="url(#vg)" opacity="0.020" style="mix-blend-mode:plus-lighter"/><rect x="3112" y="-134.61" width="4" height="720" fill="url(#vg)" opacity="0.033" style="mix-blend-mode:plus-lighter"/><rect x="3116" y="-134.7" width="4" height="720" fill="url(#vg)" opacity="0.047" style="mix-blend-mode:plus-lighter"/><rect x="3120" y="-134.78" width="4" height="720" fill="url(#vg)" opacity="0.060" style="mix-blend-mode:plus-lighter"/><rect x="3124" y="-134.87" width="4" height="720" fill="url(#vg)" opacity="0.073" style="mix-blend-mode:plus-lighter"/><rect x="3128" y="-134.96" width="4" height="720" fill="url(#vg)" opacity="0.087" style="mix-blend-mode:plus-lighter"/><rect x="3132" y="-135.04" width="4" height="720" fill="url(#vg)" opacity="0.100" style="mix-blend-mode:plus-lighter"/><rect x="3136" y="-135.13" width="4" height="720" fill="url(#vg)" opacity="0.113" style="mix-blend-mode:plus-lighter"/><rect x="3140" y="-135.22" width="4" height="720" fill="url(#vg)" opacity="0.127" style="mix-blend-mode:plus-lighter"/><rect x="3144" y="-135.3" width="4" height="720" fill="url(#vg)" opacity="0.121" style="mix-blend-mode:plus-lighter"/><rect x="3148" y="-135.39" width="4" height="720" fill="url(#vg)" opacity="0.108" style="mix-blend-mode:plus-lighter"/><rect x="3152" y="-135.47" width="4" height="720" fill="url(#vg)" opacity="0.096" style="mix-blend-mode:plus-lighter"/><rect x="3156" y="-135.56" width="4" height="720" fill="url(#vg)" opacity="0.083" style="mix-blend-mode:plus-lighter"/><rect x="3160" y="-135.65" width="4" height="720" fill="url(#vg)" opacity="0.071" style="mix-blend-mode:plus-lighter"/><rect x="3164" y="-135.73" width="4" height="720" fill="url(#vg)" opacity="0.058" style="mix-blend-mode:plus-lighter"/><rect x="3168" y="-135.82" width="4" height="720" fill="url(#vg)" opacity="0.046" style="mix-blend-mode:plus-lighter"/><rect x="3172" y="-135.91" width="4" height="720" fill="url(#vg)" opacity="0.033" style="mix-blend-mode:plus-lighter"/><rect x="3176" y="-135.99" width="4" height="720" fill="url(#vg)" opacity="0.026" style="mix-blend-mode:plus-lighter"/><rect x="3180" y="-136.08" width="4" height="720" fill="url(#vg)" opacity="0.022" style="mix-blend-mode:plus-lighter"/><rect x="3184" y="-136.16" width="4" height="720" fill="url(#vg)" opacity="0.017" style="mix-blend-mode:plus-lighter"/><rect x="3188" y="-136.25" width="4" height="720" fill="url(#vg)" opacity="0.012" style="mix-blend-mode:plus-lighter"/><rect x="3192" y="-136.34" width="4" height="720" fill="url(#vg)" opacity="0.007" style="mix-blend-mode:plus-lighter"/><rect x="2306" y="-45.4" width="4" height="390" fill="url(#vg)" opacity="0.007" style="mix-blend-mode:plus-lighter"/><rect x="2310" y="-45.6" width="4" height="390" fill="url(#vg)" opacity="0.010" style="mix-blend-mode:plus-lighter"/><rect x="2314" y="-45.8" width="4" height="390" fill="url(#vg)" opacity="0.013" style="mix-blend-mode:plus-lighter"/><rect x="2318" y="-46" width="4" height="390" fill="url(#vg)" opacity="0.017" style="mix-blend-mode:plus-lighter"/><rect x="2322" y="-46.2" width="4" height="390" fill="url(#vg)" opacity="0.020" style="mix-blend-mode:plus-lighter"/><rect x="2326" y="-46.4" width="4" height="390" fill="url(#vg)" opacity="0.023" style="mix-blend-mode:plus-lighter"/><rect x="2330" y="-46.6" width="4" height="390" fill="url(#vg)" opacity="0.027" style="mix-blend-mode:plus-lighter"/><rect x="2334" y="-46.8" width="4" height="390" fill="url(#vg)" opacity="0.030" style="mix-blend-mode:plus-lighter"/><rect x="2338" y="-47" width="4" height="390" fill="url(#vg)" opacity="0.033" style="mix-blend-mode:plus-lighter"/><rect x="2342" y="-47.2" width="4" height="390" fill="url(#vg)" opacity="0.037" style="mix-blend-mode:plus-lighter"/><rect x="2346" y="-47.4" width="4" height="390" fill="url(#vg)" opacity="0.040" style="mix-blend-mode:plus-lighter"/><rect x="2350" y="-47.6" width="4" height="390" fill="url(#vg)" opacity="0.043" style="mix-blend-mode:plus-lighter"/><rect x="2354" y="-47.8" width="4" height="390" fill="url(#vg)" opacity="0.047" style="mix-blend-mode:plus-lighter"/><rect x="2358" y="-48" width="4" height="390" fill="url(#vg)" opacity="0.050" style="mix-blend-mode:plus-lighter"/><rect x="2362" y="-48.2" width="4" height="390" fill="url(#vg)" opacity="0.051" style="mix-blend-mode:plus-lighter"/><rect x="2366" y="-48.4" width="4" height="390" fill="url(#vg)" opacity="0.051" style="mix-blend-mode:plus-lighter"/><rect x="2370" y="-48.6" width="4" height="390" fill="url(#vg)" opacity="0.052" style="mix-blend-mode:plus-lighter"/><rect x="2374" y="-48.8" width="4" height="390" fill="url(#vg)" opacity="0.052" style="mix-blend-mode:plus-lighter"/><rect x="2378" y="-49" width="4" height="390" fill="url(#vg)" opacity="0.053" style="mix-blend-mode:plus-lighter"/><rect x="2382" y="-49.2" width="4" height="390" fill="url(#vg)" opacity="0.053" style="mix-blend-mode:plus-lighter"/><rect x="2386" y="-49.4" width="4" height="390" fill="url(#vg)" opacity="0.054" style="mix-blend-mode:plus-lighter"/><rect x="2390" y="-49.6" width="4" height="390" fill="url(#vg)" opacity="0.055" style="mix-blend-mode:plus-lighter"/><rect x="2394" y="-49.8" width="4" height="390" fill="url(#vg)" opacity="0.055" style="mix-blend-mode:plus-lighter"/><rect x="2398" y="-50" width="4" height="390" fill="url(#vg)" opacity="0.056" style="mix-blend-mode:plus-lighter"/><rect x="2402" y="-50.2" width="4" height="390" fill="url(#vg)" opacity="0.056" style="mix-blend-mode:plus-lighter"/><rect x="2406" y="-50.4" width="4" height="390" fill="url(#vg)" opacity="0.057" style="mix-blend-mode:plus-lighter"/><rect x="2410" y="-50.6" width="4" height="390" fill="url(#vg)" opacity="0.057" style="mix-blend-mode:plus-lighter"/><rect x="2414" y="-50.8" width="4" height="390" fill="url(#vg)" opacity="0.058" style="mix-blend-mode:plus-lighter"/><rect x="2418" y="-51" width="4" height="390" fill="url(#vg)" opacity="0.059" style="mix-blend-mode:plus-lighter"/><rect x="2422" y="-51.2" width="4" height="390" fill="url(#vg)" opacity="0.059" style="mix-blend-mode:plus-lighter"/><rect x="2426" y="-51.4" width="4" height="390" fill="url(#vg)" opacity="0.060" style="mix-blend-mode:plus-lighter"/><rect x="2430" y="-51.6" width="4" height="390" fill="url(#vg)" opacity="0.060" style="mix-blend-mode:plus-lighter"/><rect x="2434" y="-51.8" width="4" height="390" fill="url(#vg)" opacity="0.061" style="mix-blend-mode:plus-lighter"/><rect x="2438" y="-52" width="4" height="390" fill="url(#vg)" opacity="0.061" style="mix-blend-mode:plus-lighter"/><rect x="2442" y="-52.2" width="4" height="390" fill="url(#vg)" opacity="0.062" style="mix-blend-mode:plus-lighter"/><rect x="2446" y="-52.4" width="4" height="390" fill="url(#vg)" opacity="0.063" style="mix-blend-mode:plus-lighter"/><rect x="2450" y="-52.6" width="4" height="390" fill="url(#vg)" opacity="0.063" style="mix-blend-mode:plus-lighter"/><rect x="2454" y="-52.8" width="4" height="390" fill="url(#vg)" opacity="0.064" style="mix-blend-mode:plus-lighter"/><rect x="2458" y="-53" width="4" height="390" fill="url(#vg)" opacity="0.064" style="mix-blend-mode:plus-lighter"/><rect x="2462" y="-53.2" width="4" height="390" fill="url(#vg)" opacity="0.065" style="mix-blend-mode:plus-lighter"/><rect x="2466" y="-53.4" width="4" height="390" fill="url(#vg)" opacity="0.065" style="mix-blend-mode:plus-lighter"/><rect x="2470" y="-53.6" width="4" height="390" fill="url(#vg)" opacity="0.066" style="mix-blend-mode:plus-lighter"/><rect x="2474" y="-53.8" width="4" height="390" fill="url(#vg)" opacity="0.067" style="mix-blend-mode:plus-lighter"/><rect x="2478" y="-54" width="4" height="390" fill="url(#vg)" opacity="0.067" style="mix-blend-mode:plus-lighter"/><rect x="2482" y="-54.2" width="4" height="390" fill="url(#vg)" opacity="0.068" style="mix-blend-mode:plus-lighter"/><rect x="2486" y="-54.4" width="4" height="390" fill="url(#vg)" opacity="0.068" style="mix-blend-mode:plus-lighter"/><rect x="2490" y="-54.6" width="4" height="390" fill="url(#vg)" opacity="0.069" style="mix-blend-mode:plus-lighter"/><rect x="2494" y="-54.8" width="4" height="390" fill="url(#vg)" opacity="0.069" style="mix-blend-mode:plus-lighter"/><rect x="2498" y="-55" width="4" height="390" fill="url(#vg)" opacity="0.070" style="mix-blend-mode:plus-lighter"/><rect x="2502" y="-55.2" width="4" height="390" fill="url(#vg)" opacity="0.070" style="mix-blend-mode:plus-lighter"/><rect x="2506" y="-55.4" width="4" height="390" fill="url(#vg)" opacity="0.069" style="mix-blend-mode:plus-lighter"/><rect x="2510" y="-55.6" width="4" height="390" fill="url(#vg)" opacity="0.069" style="mix-blend-mode:plus-lighter"/><rect x="2514" y="-55.8" width="4" height="390" fill="url(#vg)" opacity="0.068" style="mix-blend-mode:plus-lighter"/><rect x="2518" y="-56" width="4" height="390" fill="url(#vg)" opacity="0.068" style="mix-blend-mode:plus-lighter"/><rect x="2522" y="-56.2" width="4" height="390" fill="url(#vg)" opacity="0.068" style="mix-blend-mode:plus-lighter"/><rect x="2526" y="-56.4" width="4" height="390" fill="url(#vg)" opacity="0.067" style="mix-blend-mode:plus-lighter"/><rect x="2530" y="-56.6" width="4" height="390" fill="url(#vg)" opacity="0.067" style="mix-blend-mode:plus-lighter"/><rect x="2534" y="-56.8" width="4" height="390" fill="url(#vg)" opacity="0.066" style="mix-blend-mode:plus-lighter"/><rect x="2538" y="-57" width="4" height="390" fill="url(#vg)" opacity="0.066" style="mix-blend-mode:plus-lighter"/><rect x="2542" y="-57.2" width="4" height="390" fill="url(#vg)" opacity="0.066" style="mix-blend-mode:plus-lighter"/><rect x="2546" y="-57.4" width="4" height="390" fill="url(#vg)" opacity="0.065" style="mix-blend-mode:plus-lighter"/><rect x="2550" y="-57.6" width="4" height="390" fill="url(#vg)" opacity="0.065" style="mix-blend-mode:plus-lighter"/><rect x="2554" y="-57.8" width="4" height="390" fill="url(#vg)" opacity="0.064" style="mix-blend-mode:plus-lighter"/><rect x="2558" y="-58" width="4" height="390" fill="url(#vg)" opacity="0.064" style="mix-blend-mode:plus-lighter"/><rect x="2562" y="-58.2" width="4" height="390" fill="url(#vg)" opacity="0.064" style="mix-blend-mode:plus-lighter"/><rect x="2566" y="-58.4" width="4" height="390" fill="url(#vg)" opacity="0.063" style="mix-blend-mode:plus-lighter"/><rect x="2570" y="-58.6" width="4" height="390" fill="url(#vg)" opacity="0.063" style="mix-blend-mode:plus-lighter"/><rect x="2574" y="-58.8" width="4" height="390" fill="url(#vg)" opacity="0.062" style="mix-blend-mode:plus-lighter"/><rect x="2578" y="-59" width="4" height="390" fill="url(#vg)" opacity="0.062" style="mix-blend-mode:plus-lighter"/><rect x="2582" y="-59.2" width="4" height="390" fill="url(#vg)" opacity="0.062" style="mix-blend-mode:plus-lighter"/><rect x="2586" y="-59.4" width="4" height="390" fill="url(#vg)" opacity="0.061" style="mix-blend-mode:plus-lighter"/><rect x="2590" y="-59.6" width="4" height="390" fill="url(#vg)" opacity="0.061" style="mix-blend-mode:plus-lighter"/><rect x="2594" y="-59.8" width="4" height="390" fill="url(#vg)" opacity="0.060" style="mix-blend-mode:plus-lighter"/><rect x="2598" y="-60" width="4" height="390" fill="url(#vg)" opacity="0.060" style="mix-blend-mode:plus-lighter"/><rect x="2602" y="-60.2" width="4" height="390" fill="url(#vg)" opacity="0.060" style="mix-blend-mode:plus-lighter"/><rect x="2606" y="-60.4" width="4" height="390" fill="url(#vg)" opacity="0.059" style="mix-blend-mode:plus-lighter"/><rect x="2610" y="-60.6" width="4" height="390" fill="url(#vg)" opacity="0.059" style="mix-blend-mode:plus-lighter"/><rect x="2614" y="-60.8" width="4" height="390" fill="url(#vg)" opacity="0.058" style="mix-blend-mode:plus-lighter"/><rect x="2618" y="-61" width="4" height="390" fill="url(#vg)" opacity="0.058" style="mix-blend-mode:plus-lighter"/><rect x="2622" y="-61.2" width="4" height="390" fill="url(#vg)" opacity="0.058" style="mix-blend-mode:plus-lighter"/><rect x="2626" y="-61.4" width="4" height="390" fill="url(#vg)" opacity="0.057" style="mix-blend-mode:plus-lighter"/><rect x="2630" y="-61.6" width="4" height="390" fill="url(#vg)" opacity="0.057" style="mix-blend-mode:plus-lighter"/><rect x="2634" y="-61.8" width="4" height="390" fill="url(#vg)" opacity="0.056" style="mix-blend-mode:plus-lighter"/><rect x="2638" y="-62" width="4" height="390" fill="url(#vg)" opacity="0.056" style="mix-blend-mode:plus-lighter"/><rect x="2642" y="-62.2" width="4" height="390" fill="url(#vg)" opacity="0.056" style="mix-blend-mode:plus-lighter"/><rect x="2646" y="-62.4" width="4" height="390" fill="url(#vg)" opacity="0.055" style="mix-blend-mode:plus-lighter"/><rect x="2650" y="-62.6" width="4" height="390" fill="url(#vg)" opacity="0.055" style="mix-blend-mode:plus-lighter"/><rect x="2654" y="-62.8" width="4" height="390" fill="url(#vg)" opacity="0.054" style="mix-blend-mode:plus-lighter"/><rect x="2658" y="-63" width="4" height="390" fill="url(#vg)" opacity="0.054" style="mix-blend-mode:plus-lighter"/><rect x="2662" y="-63.2" width="4" height="390" fill="url(#vg)" opacity="0.054" style="mix-blend-mode:plus-lighter"/><rect x="2666" y="-63.4" width="4" height="390" fill="url(#vg)" opacity="0.053" style="mix-blend-mode:plus-lighter"/><rect x="2670" y="-63.6" width="4" height="390" fill="url(#vg)" opacity="0.053" style="mix-blend-mode:plus-lighter"/><rect x="2674" y="-63.8" width="4" height="390" fill="url(#vg)" opacity="0.052" style="mix-blend-mode:plus-lighter"/><rect x="2678" y="-64" width="4" height="390" fill="url(#vg)" opacity="0.052" style="mix-blend-mode:plus-lighter"/><rect x="2682" y="-64.2" width="4" height="390" fill="url(#vg)" opacity="0.052" style="mix-blend-mode:plus-lighter"/><rect x="2686" y="-64.4" width="4" height="390" fill="url(#vg)" opacity="0.051" style="mix-blend-mode:plus-lighter"/><rect x="2690" y="-64.6" width="4" height="390" fill="url(#vg)" opacity="0.051" style="mix-blend-mode:plus-lighter"/><rect x="2694" y="-64.8" width="4" height="390" fill="url(#vg)" opacity="0.050" style="mix-blend-mode:plus-lighter"/><rect x="2698" y="-65" width="4" height="390" fill="url(#vg)" opacity="0.050" style="mix-blend-mode:plus-lighter"/><rect x="2702" y="-65.2" width="4" height="390" fill="url(#vg)" opacity="0.049" style="mix-blend-mode:plus-lighter"/><rect x="2706" y="-65.4" width="4" height="390" fill="url(#vg)" opacity="0.048" style="mix-blend-mode:plus-lighter"/><rect x="2710" y="-65.6" width="4" height="390" fill="url(#vg)" opacity="0.047" style="mix-blend-mode:plus-lighter"/><rect x="2714" y="-65.8" width="4" height="390" fill="url(#vg)" opacity="0.046" style="mix-blend-mode:plus-lighter"/><rect x="2718" y="-66" width="4" height="390" fill="url(#vg)" opacity="0.045" style="mix-blend-mode:plus-lighter"/><rect x="2722" y="-66.2" width="4" height="390" fill="url(#vg)" opacity="0.044" style="mix-blend-mode:plus-lighter"/><rect x="2726" y="-66.4" width="4" height="390" fill="url(#vg)" opacity="0.043" style="mix-blend-mode:plus-lighter"/><rect x="2730" y="-66.6" width="4" height="390" fill="url(#vg)" opacity="0.042" style="mix-blend-mode:plus-lighter"/><rect x="2734" y="-66.8" width="4" height="390" fill="url(#vg)" opacity="0.041" style="mix-blend-mode:plus-lighter"/><rect x="2738" y="-67" width="4" height="390" fill="url(#vg)" opacity="0.040" style="mix-blend-mode:plus-lighter"/><rect x="2742" y="-67.2" width="4" height="390" fill="url(#vg)" opacity="0.039" style="mix-blend-mode:plus-lighter"/><rect x="2746" y="-67.4" width="4" height="390" fill="url(#vg)" opacity="0.038" style="mix-blend-mode:plus-lighter"/><rect x="2750" y="-67.6" width="4" height="390" fill="url(#vg)" opacity="0.037" style="mix-blend-mode:plus-lighter"/><rect x="2754" y="-67.8" width="4" height="390" fill="url(#vg)" opacity="0.036" style="mix-blend-mode:plus-lighter"/><rect x="2758" y="-68" width="4" height="390" fill="url(#vg)" opacity="0.035" style="mix-blend-mode:plus-lighter"/><rect x="2762" y="-68.2" width="4" height="390" fill="url(#vg)" opacity="0.034" style="mix-blend-mode:plus-lighter"/><rect x="2766" y="-68.4" width="4" height="390" fill="url(#vg)" opacity="0.033" style="mix-blend-mode:plus-lighter"/><rect x="2770" y="-68.6" width="4" height="390" fill="url(#vg)" opacity="0.032" style="mix-blend-mode:plus-lighter"/><rect x="2774" y="-68.8" width="4" height="390" fill="url(#vg)" opacity="0.031" style="mix-blend-mode:plus-lighter"/><rect x="2778" y="-69" width="4" height="390" fill="url(#vg)" opacity="0.030" style="mix-blend-mode:plus-lighter"/><rect x="2782" y="-69.2" width="4" height="390" fill="url(#vg)" opacity="0.029" style="mix-blend-mode:plus-lighter"/><rect x="2786" y="-69.4" width="4" height="390" fill="url(#vg)" opacity="0.028" style="mix-blend-mode:plus-lighter"/><rect x="2790" y="-69.6" width="4" height="390" fill="url(#vg)" opacity="0.027" style="mix-blend-mode:plus-lighter"/><rect x="2794" y="-69.8" width="4" height="390" fill="url(#vg)" opacity="0.026" style="mix-blend-mode:plus-lighter"/><rect x="2798" y="-70" width="4" height="390" fill="url(#vg)" opacity="0.025" style="mix-blend-mode:plus-lighter"/><rect x="2802" y="-70.2" width="4" height="390" fill="url(#vg)" opacity="0.024" style="mix-blend-mode:plus-lighter"/><rect x="2806" y="-70.4" width="4" height="390" fill="url(#vg)" opacity="0.023" style="mix-blend-mode:plus-lighter"/><rect x="2810" y="-70.6" width="4" height="390" fill="url(#vg)" opacity="0.022" style="mix-blend-mode:plus-lighter"/><rect x="2814" y="-70.8" width="4" height="390" fill="url(#vg)" opacity="0.021" style="mix-blend-mode:plus-lighter"/><rect x="2818" y="-71" width="4" height="390" fill="url(#vg)" opacity="0.020" style="mix-blend-mode:plus-lighter"/><rect x="2822" y="-71.2" width="4" height="390" fill="url(#vg)" opacity="0.019" style="mix-blend-mode:plus-lighter"/><rect x="2826" y="-71.4" width="4" height="390" fill="url(#vg)" opacity="0.018" style="mix-blend-mode:plus-lighter"/><rect x="2830" y="-71.6" width="4" height="390" fill="url(#vg)" opacity="0.017" style="mix-blend-mode:plus-lighter"/><rect x="2834" y="-71.8" width="4" height="390" fill="url(#vg)" opacity="0.016" style="mix-blend-mode:plus-lighter"/><rect x="2838" y="-72" width="4" height="390" fill="url(#vg)" opacity="0.015" style="mix-blend-mode:plus-lighter"/><rect x="2842" y="-72.2" width="4" height="390" fill="url(#vg)" opacity="0.014" style="mix-blend-mode:plus-lighter"/><rect x="2846" y="-72.4" width="4" height="390" fill="url(#vg)" opacity="0.013" style="mix-blend-mode:plus-lighter"/><rect x="2850" y="-72.6" width="4" height="390" fill="url(#vg)" opacity="0.012" style="mix-blend-mode:plus-lighter"/><rect x="2854" y="-72.8" width="4" height="390" fill="url(#vg)" opacity="0.011" style="mix-blend-mode:plus-lighter"/><rect x="2858" y="-73" width="4" height="390" fill="url(#vg)" opacity="0.010" style="mix-blend-mode:plus-lighter"/><rect x="2862" y="-73.2" width="4" height="390" fill="url(#vg)" opacity="0.009" style="mix-blend-mode:plus-lighter"/><rect x="2866" y="-73.4" width="4" height="390" fill="url(#vg)" opacity="0.008" style="mix-blend-mode:plus-lighter"/><rect x="2870" y="-73.6" width="4" height="390" fill="url(#vg)" opacity="0.007" style="mix-blend-mode:plus-lighter"/><rect x="2874" y="-73.8" width="4" height="390" fill="url(#vg)" opacity="0.006" style="mix-blend-mode:plus-lighter"/><rect x="2878" y="-74" width="4" height="390" fill="url(#vg)" opacity="0.005" style="mix-blend-mode:plus-lighter"/><rect x="2423.6" y="298.72" width="4" height="210" fill="url(#vg)" opacity="0.014" style="mix-blend-mode:plus-lighter"/><rect x="2427.6" y="298.52" width="4" height="210" fill="url(#vg)" opacity="0.024" style="mix-blend-mode:plus-lighter"/><rect x="2431.6" y="298.32" width="4" height="210" fill="url(#vg)" opacity="0.034" style="mix-blend-mode:plus-lighter"/><rect x="2435.6" y="298.12" width="4" height="210" fill="url(#vg)" opacity="0.044" style="mix-blend-mode:plus-lighter"/><rect x="2439.6" y="297.92" width="4" height="210" fill="url(#vg)" opacity="0.046" style="mix-blend-mode:plus-lighter"/><rect x="2443.6" y="297.72" width="4" height="210" fill="url(#vg)" opacity="0.036" style="mix-blend-mode:plus-lighter"/><rect x="2447.6" y="297.52" width="4" height="210" fill="url(#vg)" opacity="0.026" style="mix-blend-mode:plus-lighter"/><rect x="2451.6" y="297.32" width="4" height="210" fill="url(#vg)" opacity="0.016" style="mix-blend-mode:plus-lighter"/><rect x="2455.6" y="297.12" width="4" height="210" fill="url(#vg)" opacity="0.006" style="mix-blend-mode:plus-lighter"/><rect x="2479.6" y="295.92" width="4" height="210" fill="url(#vg)" opacity="0.005" style="mix-blend-mode:plus-lighter"/><rect x="2483.6" y="295.72" width="4" height="210" fill="url(#vg)" opacity="0.016" style="mix-blend-mode:plus-lighter"/><rect x="2487.6" y="295.52" width="4" height="210" fill="url(#vg)" opacity="0.028" style="mix-blend-mode:plus-lighter"/><rect x="2491.6" y="295.32" width="4" height="210" fill="url(#vg)" opacity="0.031" style="mix-blend-mode:plus-lighter"/><rect x="2495.6" y="295.12" width="4" height="210" fill="url(#vg)" opacity="0.020" style="mix-blend-mode:plus-lighter"/><rect x="2499.6" y="295" width="4" height="210" fill="url(#vg)" opacity="0.009" style="mix-blend-mode:plus-lighter"/><ellipse cx="3160" cy="350" rx="42" ry="180" fill="url(#gg)" opacity="0.05" style="mix-blend-mode:plus-lighter"/></g></g>
<defs><linearGradient id="cbg" x1="0" y1="0" x2="0" y2="1"><stop offset="0.000" stop-color="#eee631"/><stop offset="0.050" stop-color="#f0d035"/><stop offset="0.120" stop-color="#f3b13e"/><stop offset="0.200" stop-color="#d7b43a"/><stop offset="0.300" stop-color="#a8bd48"/><stop offset="0.400" stop-color="#6cbb78"/><stop offset="0.500" stop-color="#20b2ae"/><stop offset="0.600" stop-color="#1ea8cc"/><stop offset="0.700" stop-color="#2d95d8"/><stop offset="0.780" stop-color="#3b78c4"/><stop offset="0.850" stop-color="#3f5cb0"/><stop offset="0.920" stop-color="#3c3f9c"/><stop offset="1.000" stop-color="#3a2f8e"/></linearGradient></defs><rect x="3412.4" y="40.9" width="46.8" height="491.5" fill="url(#cbg)"/>
<defs><clipPath id="ca"><rect x="657.8" y="0" width="1180.8" height="600"/></clipPath><clipPath id="cc"><rect x="657.8" y="560" width="1180.8" height="600"/></clipPath><clipPath id="cd"><rect x="2183.6" y="560" width="1180.8" height="600"/></clipPath></defs>
<rect x="657.8" y="38.3" width="1180.8" height="491.9" fill="none" stroke="#000" stroke-width="4.6"/>
<rect x="657.8" y="617.2" width="1180.8" height="491.4" fill="none" stroke="#000" stroke-width="4.6"/>
<rect x="2183.6" y="617" width="1180.8" height="491.8" fill="none" stroke="#000" stroke-width="4.6"/>
<path d="M658 284.3C688.62 284.3 807.6 284.4 841.7 284.3C875.8 284.2 850.97 283.8 862.6 283.7C874.23 283.6 897.52 283.58 911.5 283.7C925.48 283.82 937.18 284.05 946.5 284.4C955.82 284.75 961.58 285.37 967.4 285.8C973.22 286.23 976.73 286.77 981.4 287C986.07 287.23 992.3 287.23 995.4 287.2C998.5 287.17 997.78 286.62 1000 286.8C1002.22 286.98 1006.28 288.25 1008.7 288.3C1011.12 288.35 1012.2 286.87 1014.5 287.1C1016.8 287.33 1020.08 289.62 1022.5 289.7C1024.92 289.78 1026.7 287.55 1029 287.6C1031.3 287.65 1033.87 290.08 1036.3 290C1038.73 289.92 1041.3 287.15 1043.6 287.1C1045.9 287.05 1047.8 289.93 1050.1 289.7C1052.4 289.47 1055.1 285.98 1057.4 285.7C1059.7 285.42 1061.6 288.58 1063.9 288C1066.2 287.42 1068.9 282.68 1071.2 282.2C1073.5 281.72 1075.52 285.67 1077.7 285.1C1079.88 284.53 1082.12 279.43 1084.3 278.8C1086.48 278.17 1088.38 281.95 1090.8 281.3C1093.22 280.65 1096.5 275.43 1098.8 274.9C1101.1 274.37 1102.3 278.73 1104.6 278.1C1106.9 277.47 1110.18 271.53 1112.6 271.1C1115.02 270.67 1116.8 275.9 1119.1 275.5C1121.4 275.1 1123.97 268.63 1126.4 268.7C1128.83 268.77 1131.65 275.1 1133.7 275.9C1135.75 276.7 1136.28 271.8 1138.7 273.5C1141.12 275.2 1145.77 284.48 1148.2 286.1C1150.63 287.72 1151.25 282.23 1153.3 283.2C1155.35 284.17 1157.97 292.15 1160.5 291.9C1163.03 291.65 1166.2 282.3 1168.5 281.7C1170.8 281.1 1172.12 288.65 1174.3 288.3C1176.48 287.95 1179.17 279.12 1181.6 279.6C1184.03 280.08 1186.72 290.23 1188.9 291.2C1191.08 292.17 1192.4 284.43 1194.7 285.4C1197 286.37 1200.28 297 1202.7 297C1205.12 297 1206.9 286.37 1209.2 285.4C1211.5 284.43 1214.08 292.78 1216.5 291.2C1218.92 289.62 1221.4 277.12 1223.7 275.9C1226 274.68 1228.23 283.9 1230.3 283.9C1232.37 283.9 1233.57 274.57 1236.1 275.9C1238.63 277.23 1243.08 289.95 1245.5 291.9C1247.92 293.85 1248.53 286.5 1250.6 287.6C1252.67 288.7 1255.35 298.75 1257.9 298.5C1260.45 298.25 1263.6 287.08 1265.9 286.1C1268.2 285.12 1269.52 293.45 1271.7 292.6C1273.88 291.75 1276.58 281.12 1279 281C1281.42 280.88 1283.92 291.65 1286.2 291.9C1288.48 292.15 1290.52 282.62 1292.7 282.5C1294.88 282.38 1297.12 290.72 1299.3 291.2C1301.48 291.68 1303.38 283.95 1305.8 285.4C1308.22 286.85 1311.62 297.85 1313.8 299.9C1315.98 301.95 1316.6 295.4 1318.9 297.7C1321.2 300 1325.17 312.98 1327.6 313.7C1330.03 314.42 1331.65 306.25 1333.5 302C1335.35 297.75 1336.92 296.3 1338.7 288.2C1340.48 280.1 1342.38 267.2 1344.2 253.4C1346.02 239.6 1348.15 218.85 1349.6 205.4C1351.05 191.95 1351.88 180.77 1352.9 172.7C1353.92 164.63 1354.72 157 1355.7 157C1356.68 157 1357.82 161 1358.8 172.7C1359.78 184.4 1360.77 205.4 1361.6 227.2C1362.43 249 1362.93 274.62 1363.8 303.5C1364.67 332.38 1365.92 372.85 1366.8 400.5C1367.68 428.15 1368.48 452.73 1369.1 469.4C1369.72 486.07 1369.93 500.5 1370.5 500.5C1371.07 500.5 1371.78 487.98 1372.5 469.4C1373.22 450.82 1374.18 417.23 1374.8 389C1375.42 360.77 1375.77 328.17 1376.2 300C1376.63 271.83 1377 238.67 1377.4 220C1377.8 201.33 1378.22 194.5 1378.6 188C1378.98 181.5 1379.3 180.33 1379.7 181C1380.1 181.67 1380.38 180.67 1381 192C1381.62 203.33 1382.45 230.85 1383.4 249C1384.35 267.15 1385.62 296.55 1386.7 300.9C1387.78 305.25 1388.73 282.48 1389.9 275.1C1391.07 267.72 1391.98 254.95 1393.7 256.6C1395.42 258.25 1398.1 283.37 1400.2 285C1402.3 286.63 1404.02 265.5 1406.3 266.4C1408.58 267.3 1411.43 290.03 1413.9 290.4C1416.37 290.77 1418.67 268.23 1421.1 268.6C1423.53 268.97 1425.95 291.43 1428.5 292.6C1431.05 293.77 1433.85 275.97 1436.4 275.6C1438.95 275.23 1441.27 289.82 1443.8 290.4C1446.33 290.98 1448.95 279.17 1451.6 279.1C1454.25 279.03 1457.08 289.63 1459.7 290C1462.32 290.37 1464.65 281.3 1467.3 281.3C1469.95 281.3 1472.9 290.2 1475.6 290C1478.3 289.8 1480.9 280.35 1483.5 280.1C1486.1 279.85 1488.87 287.57 1491.2 288.5C1493.53 289.43 1495.28 285.7 1497.5 285.7C1499.72 285.7 1502.53 288.32 1504.5 288.5C1506.47 288.68 1507.57 286.85 1509.3 286.8C1511.03 286.75 1512.92 288.33 1514.9 288.2C1516.88 288.07 1519.1 285.83 1521.2 286C1523.3 286.17 1525.17 289.72 1527.5 289.2C1529.83 288.68 1532.87 282.85 1535.2 282.9C1537.53 282.95 1539.17 290.08 1541.5 289.5C1543.83 288.92 1546.63 278.75 1549.2 279.4C1551.77 280.05 1554.35 294.68 1556.9 293.4C1559.45 292.12 1561.83 270.65 1564.5 271.7C1567.17 272.75 1570.22 300.68 1572.9 299.7C1575.58 298.72 1577.92 264.92 1580.6 265.8C1583.28 266.68 1586.2 306.62 1589 305C1591.8 303.38 1594.6 255.6 1597.4 256.1C1600.2 256.6 1603 305.68 1605.8 308C1608.6 310.32 1611.53 272.55 1614.2 270C1616.87 267.45 1619.37 291.48 1621.8 292.7C1624.23 293.92 1626.35 277.88 1628.8 277.3C1631.25 276.72 1633.93 288.62 1636.5 289.2C1639.07 289.78 1641.63 281.1 1644.2 280.8C1646.77 280.5 1649.22 287.12 1651.9 287.4C1654.58 287.68 1657.73 282.78 1660.3 282.5C1662.87 282.22 1663.58 285.45 1667.3 285.7C1671.02 285.95 1678.53 284 1682.6 284C1686.67 284 1688.9 285.83 1691.7 285.7C1694.5 285.57 1696.72 283.2 1699.4 283.2C1702.08 283.2 1705 285.7 1707.8 285.7C1710.6 285.7 1713.4 283.2 1716.2 283.2C1719 283.2 1721.82 285.63 1724.6 285.7C1727.38 285.77 1730.12 283.72 1732.9 283.6C1735.68 283.48 1736.87 284.88 1741.3 285C1745.73 285.12 1743.3 284.42 1759.5 284.3C1775.7 284.18 1825.33 284.3 1838.5 284.3" fill="none" stroke="#1d4f9f" stroke-width="4.8" stroke-linejoin="round" clip-path="url(#ca)"/>
<path d="M658 935.4C693.27 935.4 827.35 935.98 869.6 935.4C911.85 934.82 897.52 933.03 911.5 931.9C925.48 930.77 943.02 928.57 953.5 928.6C963.98 928.63 967.42 929.18 974.4 932.1C981.38 935.02 988.92 939.62 995.4 946.1C1001.88 952.58 1005.22 958.12 1013.3 971C1021.38 983.88 1033.72 1008.65 1043.9 1023.4C1054.08 1038.15 1064.97 1061.68 1074.4 1059.5C1083.83 1057.32 1092.52 1038.12 1100.5 1010.3C1108.48 982.48 1115.75 927.48 1122.3 892.6C1128.85 857.72 1134.5 821.72 1139.8 801C1145.1 780.28 1149.02 767.57 1154.1 768.3C1159.18 769.03 1163.97 784.68 1170.3 805.4C1176.63 826.12 1184.7 869.87 1192.1 892.6C1199.5 915.33 1207.43 943.25 1214.7 941.8C1221.97 940.35 1228.57 900.47 1235.7 883.9C1242.83 867.33 1250.97 843.13 1257.5 842.4C1264.03 841.67 1269.1 858.07 1274.9 879.5C1280.7 900.93 1287.05 940.3 1292.3 971C1297.55 1001.7 1301.15 1042.8 1306.4 1063.7C1311.65 1084.6 1317.9 1096.4 1323.8 1096.4C1329.7 1096.4 1336.98 1100.07 1341.8 1063.7C1346.62 1027.33 1349.7 936.38 1352.7 878.2C1355.7 820.02 1357.8 747.52 1359.8 714.6C1361.8 681.68 1363.07 680.7 1364.7 680.7C1366.33 680.7 1367.95 681.68 1369.6 714.6C1371.25 747.52 1372.85 820.73 1374.6 878.2C1376.35 935.67 1378.38 1039.43 1380.1 1059.4C1381.82 1079.37 1383.32 1017.08 1384.9 998C1386.48 978.92 1387.72 951.78 1389.6 944.9C1391.48 938.02 1393.25 960.75 1396.2 956.7C1399.15 952.65 1403.88 922.37 1407.3 920.6C1410.72 918.83 1413.37 945.87 1416.7 946.1C1420.03 946.33 1423.95 922.2 1427.3 922C1430.65 921.8 1434.03 942.07 1436.8 944.9C1439.57 947.73 1441.35 939.12 1443.9 939C1446.45 938.88 1449.15 944.4 1452.1 944.2C1455.05 944 1459.03 938.67 1461.6 937.8C1464.17 936.93 1464.95 939.98 1467.5 939C1470.05 938.02 1474.55 933 1476.9 931.9C1479.25 930.8 1479.55 932.58 1481.6 932.4C1483.65 932.22 1486.25 930.08 1489.2 930.8C1492.15 931.52 1496.15 936.32 1499.3 936.7C1502.45 937.08 1504.95 932.72 1508.1 933.1C1511.25 933.48 1515.13 938.6 1518.2 939C1521.27 939.4 1523.62 935.18 1526.5 935.5C1529.38 935.82 1532.67 940.7 1535.5 940.9C1538.33 941.1 1540.67 936.53 1543.5 936.7C1546.33 936.87 1549.9 941.6 1552.5 941.9C1555.1 942.2 1556.35 937.02 1559.1 938.5C1561.85 939.98 1566.17 949.93 1569 950.8C1571.83 951.67 1574.13 941.73 1576.1 943.7C1578.07 945.67 1579.43 951.58 1580.8 962.6C1582.17 973.62 1583.05 995.55 1584.3 1009.8C1585.55 1024.05 1587 1052.03 1588.3 1048.1C1589.6 1044.17 1590.98 1014.22 1592.1 986.2C1593.22 958.18 1594.18 913.58 1595 880C1595.82 846.42 1595.83 823.1 1597 784.7C1598.17 746.3 1600.42 649.6 1602 649.6C1603.58 649.6 1605.32 746.3 1606.5 784.7C1607.68 823.1 1608.27 848.38 1609.1 880C1609.93 911.62 1610.42 946.9 1611.5 974.4C1612.58 1001.9 1614.07 1041.57 1615.6 1045C1617.13 1048.43 1619 1011 1620.7 995C1622.4 979 1624.07 955.97 1625.8 949C1627.53 942.03 1628.88 954.53 1631.1 953.2C1633.32 951.87 1636.62 942.65 1639.1 941C1641.58 939.35 1643.5 943.68 1646 943.3C1648.5 942.92 1650.27 939.67 1654.1 938.7C1657.93 937.73 1662.68 937.88 1669 937.5C1675.32 937.12 1685.1 936.67 1692 936.4C1698.9 936.13 1702.73 935.8 1710.4 935.9C1718.07 936 1728.8 936.65 1738 937C1747.2 937.35 1757.93 937.6 1765.6 938C1773.27 938.4 1778.63 938.78 1784 939.4C1789.37 940.02 1794.92 941.32 1797.8 941.7C1800.68 942.08 1799.38 940.1 1801.3 941.7C1803.22 943.3 1807.2 950.08 1809.3 951.3C1811.4 952.52 1812.37 945.55 1813.9 949C1815.43 952.45 1817.15 960.5 1818.5 972C1819.85 983.5 1820.85 1006.12 1822 1018C1823.15 1029.88 1824.25 1047.13 1825.4 1043.3C1826.55 1039.47 1827.93 1014.55 1828.9 995C1829.87 975.45 1830.43 951.83 1831.2 926C1831.97 900.17 1832.7 874.33 1833.5 840C1834.3 805.67 1835.17 751.83 1836 720C1836.83 688.17 1838.08 660.83 1838.5 649" fill="none" stroke="#1d4f9f" stroke-width="4.8" stroke-linejoin="round" clip-path="url(#cc)"/>
<path d="M2183.6 1094C2184.48 1094.48 2186.78 1094.93 2188.9 1096.9C2191.02 1098.87 2193.83 1109 2196.3 1105.8C2198.77 1102.6 2201.47 1092.28 2203.7 1077.7C2205.93 1063.12 2207.97 1040.55 2209.7 1018.3C2211.43 996.05 2212.72 970.58 2214.1 944.2C2215.48 917.82 2216.67 888.15 2218 860C2219.33 831.85 2220.68 799.58 2222.1 775.3C2223.52 751.02 2225.38 725.2 2226.5 714.3C2227.62 703.4 2227.83 709.82 2228.8 709.9C2229.77 709.98 2230.98 716.02 2232.3 714.8C2233.62 713.58 2235.48 710.92 2236.7 702.6C2237.92 694.28 2238.63 673.7 2239.6 664.9C2240.57 656.1 2241.53 649.8 2242.5 649.8C2243.47 649.8 2244.43 651.25 2245.4 664.9C2246.37 678.55 2247.33 708.47 2248.3 731.7C2249.27 754.93 2250.23 781.25 2251.2 804.3C2252.17 827.35 2253.37 846.68 2254.1 870C2254.83 893.32 2254.35 917 2255.6 944.2C2256.85 971.4 2259.47 1007.75 2261.6 1033.2C2263.73 1058.65 2266.28 1094.43 2268.4 1096.9C2270.52 1099.37 2272.47 1065.05 2274.3 1048C2276.13 1030.95 2277.82 1005.73 2279.4 994.6C2280.98 983.47 2282.32 985.65 2283.8 981.2C2285.28 976.75 2286.92 981.48 2288.3 967.9C2289.68 954.32 2290.88 931.8 2292.1 899.7C2293.32 867.6 2294.43 808.15 2295.6 775.3C2296.77 742.45 2297.78 719.17 2299.1 702.6C2300.42 686.03 2302.13 675.9 2303.5 675.9C2304.87 675.9 2306.1 686.03 2307.3 702.6C2308.5 719.17 2309.4 747.4 2310.7 775.3C2312 803.2 2314.03 846.8 2315.1 870C2316.17 893.2 2315.63 901.15 2317.1 914.5C2318.57 927.85 2321.53 935.27 2323.9 950.1C2326.27 964.93 2328.83 985.7 2331.3 1003.5C2333.77 1021.3 2336.23 1051.47 2338.7 1056.9C2341.17 1062.33 2343.63 1041.3 2346.1 1036.1C2348.57 1030.9 2350.78 1022.73 2353.5 1025.7C2356.22 1028.67 2358.93 1042.03 2362.4 1053.9C2365.87 1065.77 2370.48 1090.97 2374.3 1096.9C2378.12 1102.83 2382.08 1089.65 2385.3 1089.5C2388.52 1089.35 2390 1102.92 2393.6 1096C2397.2 1089.08 2403.73 1061.55 2406.9 1048C2410.07 1034.45 2410.82 1021.58 2412.6 1014.7C2414.38 1007.82 2415.93 1006.7 2417.6 1006.7C2419.27 1006.7 2421.03 1009.25 2422.6 1014.7C2424.17 1020.15 2424.7 1025.32 2427 1039.4C2429.3 1053.48 2433.22 1090.67 2436.4 1099.2C2439.58 1107.73 2442.92 1091.55 2446.1 1090.6C2449.28 1089.65 2452.52 1100.13 2455.5 1093.5C2458.48 1086.87 2461.65 1065.6 2464 1050.8C2466.35 1036 2467.83 1013.72 2469.6 1004.7C2471.37 995.68 2472.93 996.7 2474.6 996.7C2476.27 996.7 2477.8 995.68 2479.6 1004.7C2481.4 1013.72 2482.53 1033.63 2485.4 1050.8C2488.27 1067.97 2493.25 1099.4 2496.8 1107.7C2500.35 1116 2503.85 1102.02 2506.7 1100.6C2509.55 1099.18 2511.28 1107.5 2513.9 1099.2C2516.52 1090.9 2519.78 1066.45 2522.4 1050.8C2525.02 1035.15 2527.57 1014.22 2529.6 1005.3C2531.63 996.38 2532.93 997.3 2534.6 997.3C2536.27 997.3 2537.83 996.38 2539.6 1005.3C2541.37 1014.22 2542.47 1033.73 2545.2 1050.8C2547.93 1067.87 2552.22 1099.25 2556 1107.7C2559.78 1116.15 2564.48 1103.4 2567.9 1101.5C2571.32 1099.6 2573.65 1105.7 2576.5 1096.3C2579.35 1086.9 2582.75 1058 2585 1045.1C2587.25 1032.2 2588.33 1024.6 2590 1018.9C2591.67 1013.2 2593.33 1010.9 2595 1010.9C2596.67 1010.9 2598.33 1012.25 2600 1018.9C2601.67 1025.55 2602.28 1036 2605 1050.8C2607.72 1065.6 2612.52 1098.92 2616.3 1107.7C2620.08 1116.48 2624.62 1104.68 2627.7 1103.5C2630.78 1102.32 2631.95 1109.38 2634.8 1100.6C2637.65 1091.82 2642.17 1062.32 2644.8 1050.8C2647.43 1039.28 2648.8 1035.3 2650.6 1031.5C2652.4 1027.7 2653.93 1027.83 2655.6 1028C2657.27 1028.17 2658.83 1026.8 2660.6 1032.5C2662.37 1038.2 2663.38 1049.75 2666.2 1062.2C2669.02 1074.65 2673.95 1099.85 2677.5 1107.2C2681.05 1114.55 2684.75 1106.52 2687.5 1106.3C2690.25 1106.08 2692.42 1106.48 2694 1105.88C2695.58 1105.28 2696 1104.18 2697 1102.68C2698 1101.18 2699 1099.36 2700 1096.91C2701 1094.46 2702 1091.42 2703 1087.97C2704 1084.52 2705 1080.29 2706 1076.21C2707 1072.13 2708 1067.38 2709 1063.51C2710 1059.64 2711 1055.59 2712 1052.97C2713 1050.35 2714 1048.34 2715 1047.8C2716 1047.26 2717 1048.02 2718 1049.74C2719 1051.46 2720 1054.7 2721 1058.12C2722 1061.54 2723 1066.13 2724 1070.24C2725 1074.35 2726 1078.93 2727 1082.75C2728 1086.57 2729 1090.21 2730 1093.14C2731 1096.07 2732 1098.44 2733 1100.34C2734 1102.24 2735 1103.51 2736 1104.52C2737 1105.53 2738 1106.03 2739 1106.39C2740 1106.75 2741 1106.71 2742 1106.68C2743 1106.65 2744 1106.35 2745 1106.19C2746 1106.03 2747 1105.83 2748 1105.72C2749 1105.62 2750 1105.67 2751 1105.56C2752 1105.45 2753 1105.47 2754 1105.05C2755 1104.63 2756 1104.1 2757 1103.04C2758 1101.98 2759 1100.58 2760 1098.69C2761 1096.8 2762 1094.39 2763 1091.71C2764 1089.03 2765 1085.73 2766 1082.58C2767 1079.43 2768 1075.77 2769 1072.79C2770 1069.81 2771 1066.7 2772 1064.67C2773 1062.64 2774 1061.06 2775 1060.6C2776 1060.13 2777 1060.63 2778 1061.88C2779 1063.13 2780 1065.52 2781 1068.09C2782 1070.66 2783 1074.14 2784 1077.3C2785 1080.46 2786 1084.03 2787 1087.04C2788 1090.05 2789 1092.97 2790 1095.34C2791 1097.71 2792 1099.69 2793 1101.27C2794 1102.85 2795 1103.97 2796 1104.84C2797 1105.71 2798 1106.18 2799 1106.51C2800 1106.84 2801 1106.85 2802 1106.84C2803 1106.83 2804 1106.58 2805 1106.46C2806 1106.34 2807 1106.19 2808 1106.13C2809 1106.07 2810 1106.15 2811 1106.12C2812 1106.09 2813 1106.19 2814 1105.97C2815 1105.75 2816 1105.46 2817 1104.8C2818 1104.13 2819 1103.24 2820 1101.98C2821 1100.72 2822 1099.12 2823 1097.27C2824 1095.42 2825 1093.14 2826 1090.87C2827 1088.6 2828 1085.95 2829 1083.67C2830 1081.39 2831 1078.93 2832 1077.17C2833 1075.41 2834 1073.85 2835 1073.11C2836 1072.37 2837 1072.22 2838 1072.72C2839 1073.22 2840 1074.52 2841 1076.11C2842 1077.7 2843 1080.03 2844 1082.26C2845 1084.49 2846 1087.15 2847 1089.46C2848 1091.77 2849 1094.15 2850 1096.12C2851 1098.09 2852 1099.85 2853 1101.27C2854 1102.69 2855 1103.79 2856 1104.67C2857 1105.55 2858 1106.11 2859 1106.54C2860 1106.97 2861 1107.13 2862 1107.23C2863 1107.33 2864 1107.21 2865 1107.13C2866 1107.05 2867 1106.84 2868 1106.74C2869 1106.64 2870 1106.58 2871 1106.55C2872 1106.52 2873 1106.62 2874 1106.58C2875 1106.54 2876 1106.55 2877 1106.31C2878 1106.07 2879 1105.74 2880 1105.15C2881 1104.56 2882 1103.77 2883 1102.76C2884 1101.75 2885 1100.49 2886 1099.12C2887 1097.75 2888 1096.11 2889 1094.54C2890 1092.97 2891 1091.19 2892 1089.72C2893 1088.25 2894 1086.75 2895 1085.72C2896 1084.69 2897 1083.87 2898 1083.57C2899 1083.27 2900 1083.41 2901 1083.92C2902 1084.43 2903 1085.47 2904 1086.64C2905 1087.82 2906 1089.44 2907 1090.97C2908 1092.5 2909 1094.28 2910 1095.82C2911 1097.36 2912 1098.92 2913 1100.22C2914 1101.52 2915 1102.67 2916 1103.6C2917 1104.53 2918 1105.25 2919 1105.82C2920 1106.39 2921 1106.75 2922 1107.02C2923 1107.29 2924 1107.37 2925 1107.41C2926 1107.45 2927 1107.34 2928 1107.27C2929 1107.2 2930 1107.07 2931 1107.01C2932 1106.95 2933 1106.94 2934 1106.93C2935 1106.92 2936 1106.99 2937 1106.94C2938 1106.89 2939 1106.85 2940 1106.65C2941 1106.46 2942 1106.17 2943 1105.77C2944 1105.37 2945 1104.85 2946 1104.25C2947 1103.65 2948 1102.92 2949 1102.19C2950 1101.46 2951 1100.62 2952 1099.86C2953 1099.1 2954 1098.27 2955 1097.61C2956 1096.95 2957 1096.32 2958 1095.9C2959 1095.49 2960 1095.19 2961 1095.12C2962 1095.05 2963 1095.17 2964 1095.46C2965 1095.75 2966 1096.26 2967 1096.84C2968 1097.42 2969 1098.18 2970 1098.92C2971 1099.66 2972 1100.51 2973 1101.27C2974 1102.03 2975 1102.81 2976 1103.47C2977 1104.13 2978 1104.74 2979 1105.23C2980 1105.72 2981 1106.11 2982 1106.41C2983 1106.71 2984 1106.89 2985 1107.02C2986 1107.15 2987 1107.18 2988 1107.21C2989 1107.24 2990 1107.2 2991 1107.2C2992 1107.2 2993 1107.2 2994 1107.22C2995 1107.24 2996 1107.3 2997 1107.34C2998 1107.38 2999 1107.44 3000 1107.44C3001 1107.44 3002 1107.43 3003 1107.36C3004 1107.29 3005 1107.17 3006 1107C3007 1106.83 3008 1106.61 3009 1106.36C3010 1106.11 3011 1105.81 3012 1105.51C3013 1105.21 3014 1104.87 3015 1104.56C3016 1104.25 3017 1103.93 3018 1103.66C3019 1103.39 3020 1103.14 3021 1102.97C3022 1102.8 3023 1102.66 3024 1102.62C3025 1102.57 3026 1102.61 3027 1102.7C3028 1102.79 3029 1102.96 3030 1103.17C3031 1103.38 3032 1103.66 3033 1103.95C3034 1104.24 3035 1104.57 3036 1104.88C3037 1105.19 3038 1105.53 3039 1105.82C3040 1106.11 3041 1106.4 3042 1106.64C3043 1106.88 3044 1107.1 3045 1107.28C3046 1107.46 3047 1107.61 3048 1107.73C3049 1107.85 3050 1107.94 3051 1108.01C3052 1108.08 3053 1108.12 3054 1108.14C3055 1108.16 3056 1108.17 3057 1108.15C3058 1108.13 3059 1108.1 3060 1108.04C3061 1107.98 3062 1107.9 3063 1107.8C3064 1107.7 3065 1107.58 3066 1107.43C3067 1107.28 3068 1107.11 3069 1106.91C3070 1106.72 3071 1106.49 3072 1106.26C3073 1106.03 3074 1105.79 3075 1105.56C3076 1105.33 3077 1105.09 3078 1104.89C3079 1104.69 3080 1104.51 3081 1104.38C3082 1104.25 3083 1104.15 3084 1104.12C3085 1104.08 3086 1104.1 3087 1104.17C3088 1104.24 3089 1104.37 3090 1104.52C3091 1104.67 3092 1104.89 3093 1105.1C3094 1105.31 3095 1105.56 3096 1105.79C3097 1106.02 3098 1106.27 3099 1106.49C3100 1106.71 3101 1106.92 3102 1107.1C3103 1107.28 3104 1107.43 3105 1107.57C3106 1107.7 3107 1107.82 3108 1107.91C3109 1108 3110 1108.07 3111 1108.12C3112 1108.17 3113 1108.21 3114 1108.23C3115 1108.25 3116 1108.26 3117 1108.25C3118 1108.24 3119 1108.23 3120 1108.2C3121 1108.17 3122 1108.13 3123 1108.08C3124 1108.03 3125 1107.96 3126 1107.88C3127 1107.8 3128 1107.7 3129 1107.59C3130 1107.48 3131 1107.35 3132 1107.22C3133 1107.09 3134 1106.94 3135 1106.81C3136 1106.68 3137 1106.54 3138 1106.42C3139 1106.3 3140 1106.18 3141 1106.1C3142 1106.01 3143 1105.94 3144 1105.91C3145 1105.88 3146 1105.88 3147 1105.9C3148 1105.92 3149 1105.97 3150 1106.04C3151 1106.11 3152 1106.2 3153 1106.29C3154 1106.38 3155 1106.48 3156 1106.57C3157 1106.65 3158 1106.74 3159 1106.8C3160 1106.86 3161 1106.89 3162 1106.91C3163 1106.93 3164 1106.92 3165 1106.9C3166 1106.88 3167 1106.82 3168 1106.78C3169 1106.74 3170 1106.68 3171 1106.64C3172 1106.6 3173 1106.56 3174 1106.54C3175 1106.52 3176 1106.52 3177 1106.54C3178 1106.56 3179 1106.6 3180 1106.65C3181 1106.7 3182 1106.77 3183 1106.84C3184 1106.9 3185 1106.98 3186 1107.04C3187 1107.1 3188 1107.14 3189 1107.17C3190 1107.2 3191 1107.21 3192 1107.19C3193 1107.17 3194 1107.13 3195 1107.08C3196 1107.03 3197 1106.95 3198 1106.89C3199 1106.83 3200 1106.75 3201 1106.7C3202 1106.65 3203 1106.61 3204 1106.59C3205 1106.57 3206 1106.57 3207 1106.6C3208 1106.63 3209 1106.69 3210 1106.76C3211 1106.83 3212 1106.93 3213 1107.03C3214 1107.13 3215 1107.24 3216 1107.35C3217 1107.46 3218 1107.57 3219 1107.67C3220 1107.77 3221 1107.85 3222 1107.93C3223 1108.01 3224 1108.08 3225 1108.13C3226 1108.18 3227 1108.22 3228 1108.25C3229 1108.28 3227.17 1108.3 3231 1108.33C3234.83 1108.36 3244.33 1108.39 3251 1108.4C3257.67 1108.41 3264.33 1108.4 3271 1108.4C3277.67 1108.4 3284.33 1108.4 3291 1108.4C3297.67 1108.4 3304.33 1108.4 3311 1108.4C3317.67 1108.4 3324.33 1108.4 3331 1108.4C3337.67 1108.4 3345.43 1108.4 3351 1108.4C3356.57 1108.4 3362.17 1108.4 3364.4 1108.4" fill="none" stroke="#e0201f" stroke-width="4.4" stroke-linejoin="round" clip-path="url(#cd)"/>
<rect x="2183.6" y="40.5" width="1180.9" height="491.9" fill="none" stroke="#000" stroke-width="4.6"/>
<rect x="3412.4" y="40.9" width="46.8" height="491.5" fill="none" stroke="#000" stroke-width="4.6"/>
<path d="M657.8 284.3h16M657.8 161.3h11.5M657.8 407.2h11.5M775.9 530.2v-16M1012 530.2v-16M1248.2 530.2v-16M1484.4 530.2v-16M1720.5 530.2v-16M657.8 646h16M657.8 877.4h16M657.8 761.8h11.5M657.8 993.3h11.5M775.9 1108.6v-16M1012 1108.6v-16M1248.2 1108.6v-16M1484.4 1108.6v-16M1720.5 1108.6v-16M2183.6 88.6h16M2183.6 285.8h16M2183.6 483h16M2183.6 187.2h11.5M2183.6 384.4h11.5M2480.3 532.4v-5.5M2774.5 532.4v-5.5M3068.8 532.4v-5.5M2183.6 862.4h16M2183.6 739.8h11.5M2183.6 985h11.5M2478.9 1108.8v-16M2774.5 1108.8v-16M3069.5 1108.8v-16" stroke="#000" stroke-width="4.2" stroke-linecap="round" fill="none"/>
<path d="M3459.2 63h-8.5M3459.2 115.18h-8.5M3459.2 167.36h-8.5M3459.2 219.54h-8.5M3459.2 271.72h-8.5M3459.2 323.9h-8.5M3459.2 376.08h-8.5M3459.2 428.26h-8.5M3459.2 480.44h-8.5" stroke="#000" stroke-width="4.2" stroke-linecap="round" fill="none"/>
<text transform="matrix(1.07 0 0 0.98 601.66 56.53)" style="" fill="#000" stroke="#fff" stroke-width="0.7">8</text>
<text transform="matrix(1.09 0 0 0.98 601.11 301.33)" style="" fill="#000" stroke="#fff" stroke-width="0.7">0</text>
<text transform="matrix(1.06 0 0 0.98 601.68 546.42)" style="" fill="#000" stroke="#fff" stroke-width="0.7">8</text>
<rect x="552.1" y="529.9" width="39.2" height="3" fill="#000"/>
<text transform="matrix(1.14 0 0 0.98 547.98 665.37)" style="" fill="#000" stroke="#fff" stroke-width="0.7">1.0</text>
<text transform="matrix(1.14 0 0 0.99 548.8 894.66)" style="" fill="#000" stroke="#fff" stroke-width="0.7">0.2</text>
<text transform="matrix(1.13 0 0 0.99 548.82 1123.36)" style="" fill="#000" stroke="#fff" stroke-width="0.7">0.6</text>
<rect x="500.2" y="1106.8" width="39.1" height="3" fill="#000"/>
<text transform="matrix(1.15 0 0 1 2126.46 110.8)" style="" fill="#000" stroke="#fff" stroke-width="0.7">2</text>
<text transform="matrix(1.09 0 0 0.99 2127.22 304.92)" style="" fill="#000" stroke="#fff" stroke-width="0.7">0</text>
<text transform="matrix(1.11 0 0 0.97 2127.06 499.3)" style="" fill="#000" stroke="#fff" stroke-width="0.7">2</text>
<rect x="2078.2" y="482.9" width="39.3" height="3" fill="#000"/>
<text transform="matrix(1.14 0 0 0.99 2126.49 636.8)" style="" fill="#000" stroke="#fff" stroke-width="0.7">2</text>
<text transform="matrix(1.02 0 0 0.98 2127.33 883)" style="" fill="#000" stroke="#fff" stroke-width="0.7">1</text>
<text transform="matrix(1.14 0 0 0.99 2126.1 1129.52)" style="" fill="#000" stroke="#fff" stroke-width="0.7">0</text>
<text transform="matrix(1.12 0 0 0.97 787.65 1174.3)" style="" fill="#000" stroke="#fff" stroke-width="0.7">2</text>
<rect x="739.8" y="1158.3" width="39.8" height="3" fill="#000"/>
<text transform="matrix(1.04 0 0 0.99 1025.13 1174.3)" style="" fill="#000" stroke="#fff" stroke-width="0.7">1</text>
<rect x="976.1" y="1158.3" width="39.2" height="3" fill="#000"/>
<text transform="matrix(1.1 0 0 0.99 1230.79 1174.62)" style="" fill="#000" stroke="#fff" stroke-width="0.7">0</text>
<text transform="matrix(1.04 0 0 0.99 1468.01 1174.3)" style="" fill="#000" stroke="#fff" stroke-width="0.7">1</text>
<text transform="matrix(1.11 0 0 0.98 1704.17 1174.3)" style="" fill="#000" stroke="#fff" stroke-width="0.7">2</text>
<text transform="matrix(1.12 0 0 0.98 2166.83 1174.02)" style="" fill="#000" stroke="#fff" stroke-width="0.7">0</text>
<text transform="matrix(1.13 0 0 0.99 2461.08 1174.02)" style="" fill="#000" stroke="#fff" stroke-width="0.7">5</text>
<text transform="matrix(1.3 0 0 0.97 2733.66 1174.03)" style="" fill="#000" stroke="#fff" stroke-width="0.7">10</text>
<text transform="matrix(1.3 0 0 0.98 3028.65 1174.03)" style="" fill="#000" stroke="#fff" stroke-width="0.7">15</text>
<text transform="matrix(1.1 0 0 0.98 3331.29 1174.03)" style="" fill="#000" stroke="#fff" stroke-width="0.7">20</text>
<text transform="matrix(1.11 0 0 0.99 3482.44 80.42)" style="" fill="#000" stroke="#fff" stroke-width="0.7">50</text>
<text transform="matrix(1.11 0 0 0.98 3482.77 550.53)" style="" fill="#000" stroke="#fff" stroke-width="0.7">0</text>
<path d="M705.4 66.1C685.13 78.97 685.13 111.73 705.4 124.6L705.85 124.1C689.58 111.73 689.58 78.97 705.85 66.6Z" fill="#000"/>
<text transform="matrix(1.23 0 0 0.93 711 109.96)" style="" fill="#000" stroke="#fff" stroke-width="1.3">a</text>
<path d="M747.4 66.1C767.67 78.97 767.67 111.73 747.4 124.6L746.95 124.1C763.22 111.73 763.22 78.97 746.95 66.6Z" fill="#000"/>
<path d="M711.4 643.1C691.13 656.04 691.13 688.96 711.4 701.9L711.85 701.4C695.58 688.96 695.58 656.04 711.85 643.6Z" fill="#000"/>
<text transform="matrix(1.09 0 0 0.9 716.21 686.67)" style="" fill="#000" stroke="#fff" stroke-width="1.3">c</text>
<path d="M749 643.1C769.4 656.04 769.4 688.96 749 701.9L748.55 701.4C764.95 688.96 764.95 656.04 748.55 643.6Z" fill="#000"/>
<path d="M2238.7 54.9C2217.63 67.84 2217.63 100.76 2238.7 113.7L2239.15 113.2C2222.08 100.76 2222.08 67.84 2239.15 55.4Z" fill="#fff"/>
<text transform="matrix(1.14 0 0 0.99 2245.8 99.52)" style="" fill="#fff" stroke="#3a3190" stroke-width="1.0">b</text>
<path d="M2283.9 54.9C2304.97 67.84 2304.97 100.76 2283.9 113.7L2283.45 113.2C2300.52 100.76 2300.52 67.84 2283.45 55.4Z" fill="#fff"/>
<path d="M2356.6 643.1C2335.93 655.99 2335.93 688.81 2356.6 701.7L2357.05 701.2C2340.38 688.81 2340.38 655.99 2357.05 643.6Z" fill="#000"/>
<text transform="matrix(1.17 0 0 0.98 2360.86 687.13)" style="" fill="#000" stroke="#fff" stroke-width="1.3">d</text>
<path d="M2402.2 643.1C2422.2 655.99 2422.2 688.81 2402.2 701.7L2401.75 701.2C2417.75 688.81 2417.75 655.99 2401.75 643.6Z" fill="#000"/>
<text transform="matrix(1.3 0 0 1.09 1197.77 1257.06)" style="font-style:italic;" fill="#000" stroke="#fff" stroke-width="0.5">t</text>
<path d="M1230.0 1269.6L1251.4 1214.7" stroke="#000" stroke-width="3.1" stroke-linecap="round"/>
<text transform="matrix(1.31 0 0 1.02 1254.35 1257.5)" style="font-style:italic;" fill="#000" stroke="#fff" stroke-width="0.5">T</text>
<text transform="matrix(0.98 0 0 0.93 2687.25 1256.56)" style="font-style:italic;" fill="#000" stroke="#fff" stroke-width="0.5">ω</text>
<path d="M2733.6 1268.4L2755.0 1214.0" stroke="#000" stroke-width="3.1" stroke-linecap="round"/>
<text transform="matrix(0.97 0 0 0.93 2759.57 1256.56)" style="font-style:italic;" fill="#000" stroke="#fff" stroke-width="0.5">ω</text>
<text transform="matrix(0.82 0 0 0.7 2798.3 1266.16)" style="" fill="#000" stroke="#fff" stroke-width="0.6">1,0</text>
<g transform="matrix(0 -1 1 0 447.2 508.1)"><g transform="matrix(0.98 0 0 1.02 0 0.29)"><path d="M27.5 -36.5C27 -41.5 21 -43 16 -40.8C9.5 -38 6.3 -32.5 7.2 -27.8C8.2 -23.5 14 -22.6 21.5 -23.8" fill="none" stroke="#000" stroke-width="3.6" stroke-linecap="round"/><path d="M15 -23.4C8 -21.5 2 -15.5 1.2 -9.2C0.5 -3.2 5 0.3 12 0.2C19 0 24 -4 27.2 -10.2" fill="none" stroke="#000" stroke-width="4" stroke-linecap="round"/><path d="M25.6 -33.8C25.8 -36 27.6 -36.6 28.6 -35.2" fill="none" stroke="#000" stroke-width="2"/><circle cx="27.2" cy="-37.8" r="2.9" fill="#000"/></g><path d="M48.4 -45.4C29.07 -32.42 29.07 0.62 48.4 13.6L48.85 13.1C33.38 0.62 33.38 -32.42 48.85 -44.9Z" fill="#000"/><text transform="matrix(1.29 0 0 1.11 52.49 -0.05)" style="font-style:italic;" fill="#000" stroke="#fff" stroke-width="0.5">t</text><path d="M83.9 -45.4C103.1 -32.42 103.1 0.62 83.9 13.6L83.45 13.1C98.78 0.62 98.78 -32.42 83.45 -44.9Z" fill="#000"/><path d="M110.9 12.0L132.8 -43.8" stroke="#000" stroke-width="3.1" stroke-linecap="round"/><path d="M163.1 -45.4C138.83 -32.42 138.83 0.62 163.1 13.6L163.55 13.1C143.15 0.62 143.15 -32.42 163.55 -44.9Z" fill="#000"/><text transform="matrix(1.07 0 0 0.99 164.97 0.12)" style="" fill="#000" stroke="#fff" stroke-width="1.3">10</text><rect x="237.7" y="-30.8" width="27.2" height="3" fill="#000"/><text transform="matrix(0.68 0 0 0.69 272.41 -19.7)" style="" fill="#000" stroke="#fff" stroke-width="0.6">4</text><text transform="matrix(1.27 0 0 0.96 317.41 0.14)" style="" fill="#000" stroke="#fff" stroke-width="1.3">a</text><text transform="matrix(0.86 0 0 0.93 352.9 -0.29)" style="" fill="#000">.</text><text transform="matrix(1.02 0 0 0.97 372.19 0.13)" style="" fill="#000" stroke="#fff" stroke-width="1.3">u</text><text transform="matrix(0.85 0 0 0.93 408.95 -0.29)" style="" fill="#000">.</text><path d="M429.7 -45.4C448.77 -32.42 448.77 0.62 429.7 13.6L429.25 13.1C444.45 0.62 444.45 -32.42 429.25 -44.9Z" fill="#000"/></g>
<g transform="matrix(0 -1 1 0 437 977.9)"><path d="M13 -43.4L0 -14.3L13 14" fill="none" stroke="#000" stroke-width="2.8" stroke-linejoin="miter"/><text transform="matrix(1.09 0 0 0.95 17.9 0.15)" style="" fill="#000" stroke="#fff" stroke-width="1.3">cos</text><text transform="matrix(0.9 0 0 1 108.37 0.12)" style="font-style:italic;" fill="#000" stroke="#fff" stroke-width="0.5">θ</text><path d="M139.6 -43.4L153.9 -14.3L139.6 14" fill="none" stroke="#000" stroke-width="2.8" stroke-linejoin="miter"/><path d="M183.9 -45.4C163.63 -32.42 163.63 0.62 183.9 13.6L184.35 13.1C167.95 0.62 167.95 -32.42 184.35 -44.9Z" fill="#000"/><text transform="matrix(1.24 0 0 1.08 187.43 0.07)" style="font-style:italic;" fill="#000" stroke="#fff" stroke-width="0.5">t</text><path d="M217.5 -45.4C236.3 -32.42 236.3 0.62 217.5 13.6L217.05 13.1C231.98 0.62 231.98 -32.42 217.05 -44.9Z" fill="#000"/></g>
<g transform="matrix(0 -1 1 0 2073.1 987.5)"><path d="M13 -43.4L0 -14.3L13 14" fill="none" stroke="#000" stroke-width="2.8" stroke-linejoin="miter"/><text transform="matrix(1.09 0 0 0.95 17.9 0.15)" style="" fill="#000" stroke="#fff" stroke-width="1.3">cos</text><text transform="matrix(0.9 0 0 1 108.37 0.12)" style="font-style:italic;" fill="#000" stroke="#fff" stroke-width="0.5">θ</text><path d="M139.6 -43.4L153.9 -14.3L139.6 14" fill="none" stroke="#000" stroke-width="2.8" stroke-linejoin="miter"/><path d="M183.9 -45.4C163.63 -32.42 163.63 0.62 183.9 13.6L184.35 13.1C167.95 0.62 167.95 -32.42 184.35 -44.9Z" fill="#000"/><text transform="matrix(0.95 0 0 0.96 187.8 0.13)" style="font-style:italic;" fill="#000" stroke="#fff" stroke-width="0.5">ω</text><path d="M231.4 -45.4C251 -32.42 251 0.62 231.4 13.6L230.95 13.1C246.68 0.62 246.68 -32.42 230.95 -44.9Z" fill="#000"/></g>
<g transform="matrix(0 -1 1 0 2033 331.9)"><text transform="matrix(1.19 0 0 1.07 -3.13 -0.03)" style="font-style:italic;" fill="#000" stroke="#fff" stroke-width="0.5">t</text><path d="M28.0 12.4L49.2 -41.9" stroke="#000" stroke-width="3.1" stroke-linecap="round"/><text transform="matrix(1.29 0 0 0.99 53.15 0)" style="font-style:italic;" fill="#000" stroke="#fff" stroke-width="0.5">T</text></g>
<g transform="matrix(0 -1 1 0 3623.1 344.3)"><g transform="matrix(1.03 0 0 1.02 0 0.29)"><path d="M27.5 -36.5C27 -41.5 21 -43 16 -40.8C9.5 -38 6.3 -32.5 7.2 -27.8C8.2 -23.5 14 -22.6 21.5 -23.8" fill="none" stroke="#000" stroke-width="3.6" stroke-linecap="round"/><path d="M15 -23.4C8 -21.5 2 -15.5 1.2 -9.2C0.5 -3.2 5 0.3 12 0.2C19 0 24 -4 27.2 -10.2" fill="none" stroke="#000" stroke-width="4" stroke-linecap="round"/><path d="M25.6 -33.8C25.8 -36 27.6 -36.6 28.6 -35.2" fill="none" stroke="#000" stroke-width="2"/><circle cx="27.2" cy="-37.8" r="2.9" fill="#000"/></g><path d="M49 -45.1C29.4 -32.12 29.4 0.92 49 13.9L49.45 13.4C33.72 0.92 33.72 -32.12 49.45 -44.6Z" fill="#000"/><text transform="matrix(0.95 0 0 0.94 53.7 0.15)" style="font-style:italic;" fill="#000" stroke="#fff" stroke-width="0.5">ω</text><path d="M97.3 -45.1C116.9 -32.12 116.9 0.92 97.3 13.9L96.85 13.4C112.58 0.92 112.58 -32.12 96.85 -44.6Z" fill="#000"/></g>
</svg></body></html>
